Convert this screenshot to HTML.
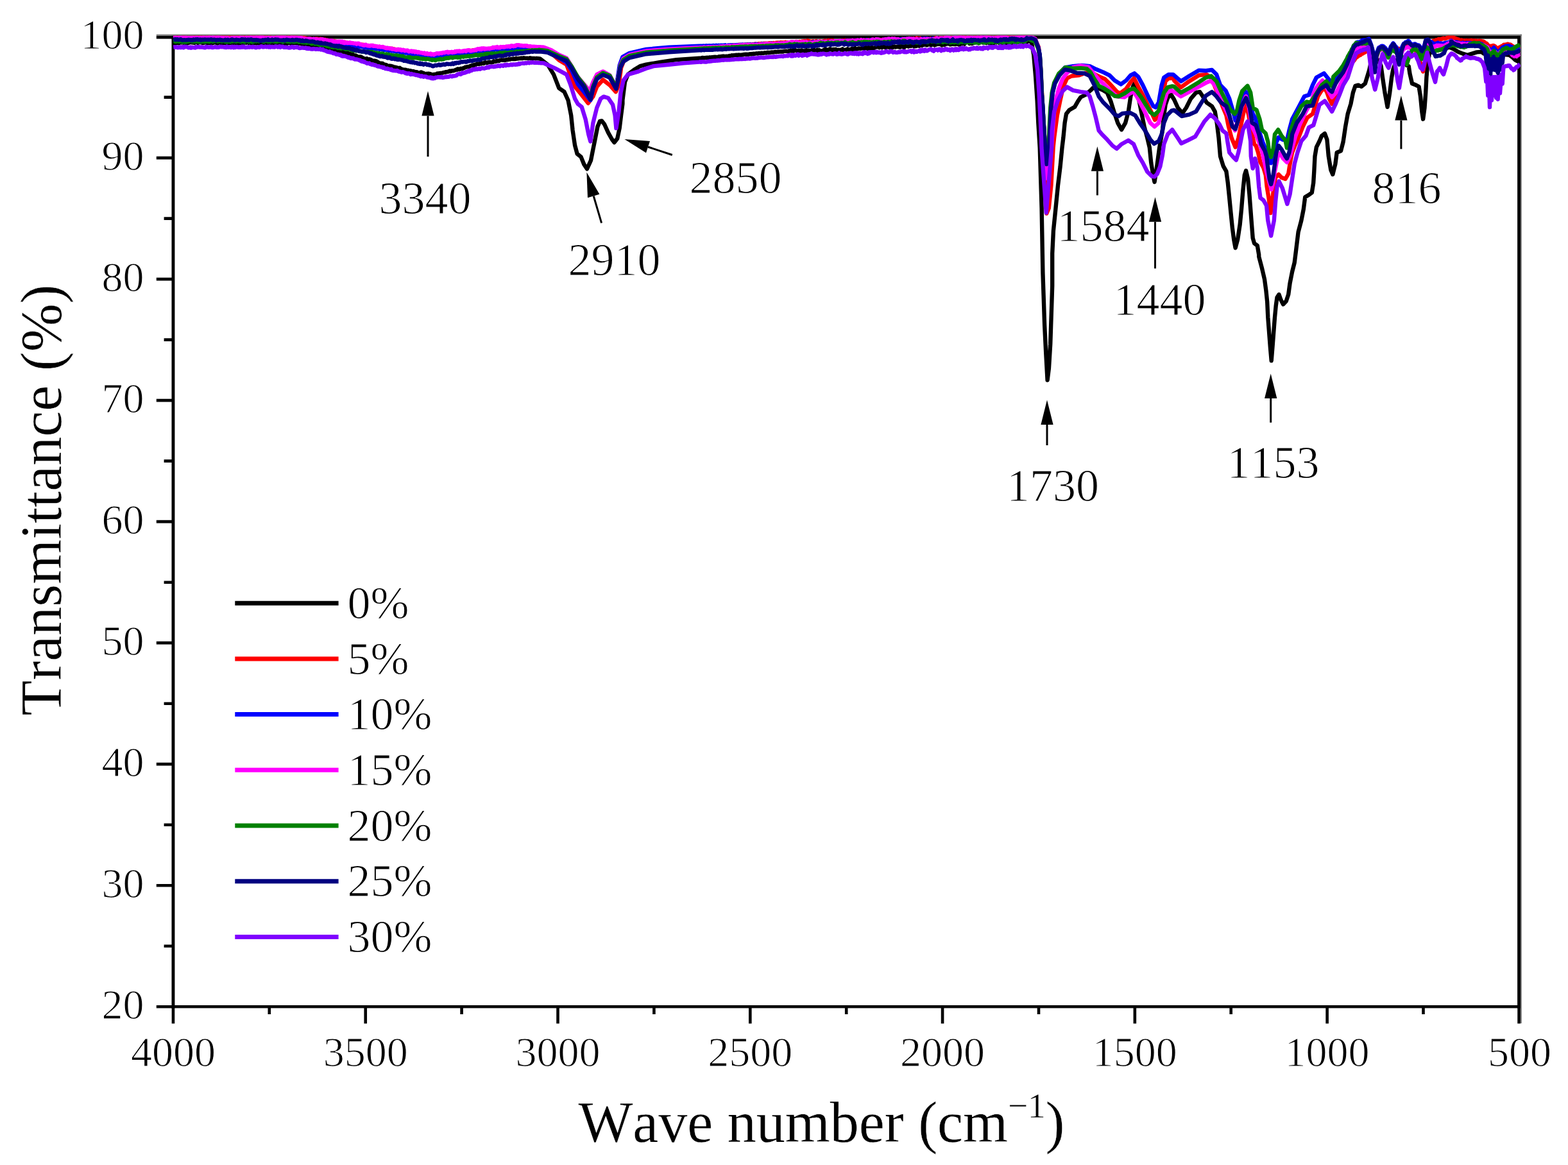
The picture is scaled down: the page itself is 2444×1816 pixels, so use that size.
<!DOCTYPE html>
<html lang="en"><head><meta charset="utf-8"><title>FTIR transmittance spectra</title>
<style>
html,body{margin:0;padding:0;background:#fff;}
body{width:2444px;height:1816px;overflow:hidden;}
svg{display:block;}
text{font-family:"Liberation Serif","DejaVu Serif",serif;fill:#000;font-kerning:none;stroke:#fff;stroke-width:1.1px;stroke-linejoin:round;}
.tk{font-size:66px;}
.an{font-size:72px;}
.lg{font-size:72px;}
.ti{font-size:90px;stroke-width:0.35px;}
.cv{fill:none;stroke-width:6.4;stroke-linejoin:round;stroke-linecap:butt;}
.ax{stroke:#000;stroke-width:4.6;fill:none;}
.ar{stroke:#000;stroke-width:3;fill:none;}
</style></head><body>
<svg width="2444" height="1816" viewBox="0 0 2444 1816">
<rect x="0" y="0" width="2444" height="1816" fill="#ffffff"/>
<defs><clipPath id="pc"><rect x="269.6" y="55.5" width="2100.3" height="1513.7"/></clipPath></defs>
<rect x="243.75" y="53.55" width="2128.10" height="2.65" fill="#7d7d7d"/>
<rect x="2369.70" y="53.55" width="2.15" height="1541.65" fill="#7d7d7d"/>
<rect x="267.50" y="55.90" width="2102.50" height="4.60" fill="#000"/>
<rect x="267.50" y="1566.95" width="2102.50" height="4.50" fill="#000"/>
<rect x="267.50" y="55.90" width="4.90" height="1515.55" fill="#000"/>
<rect x="2365.10" y="55.90" width="4.90" height="1515.55" fill="#000"/>
<path class="ax" d="M269.95,1569.2 V1595.4 M419.8,1569.2 V1580.9 M569.73,1569.2 V1595.4 M719.6,1569.2 V1580.9 M869.51,1569.2 V1595.4 M1019.4,1569.2 V1580.9 M1169.29,1569.2 V1595.4 M1319.2,1569.2 V1580.9 M1469.06,1569.2 V1595.4 M1619.0,1569.2 V1580.9 M1768.84,1569.2 V1595.4 M1918.7,1569.2 V1580.9 M2068.62,1569.2 V1595.4 M2218.5,1569.2 V1580.9 M2367.55,1569.2 V1595.4 M269.9,58.20 H243.8 M269.9,151.6 H255.6 M269.9,246.11 H243.8 M269.9,340.6 H255.6 M269.9,435.13 H243.8 M269.9,529.6 H255.6 M269.9,624.14 H243.8 M269.9,718.6 H255.6 M269.9,813.15 H243.8 M269.9,907.7 H255.6 M269.9,1002.16 H243.8 M269.9,1096.7 H255.6 M269.9,1191.17 H243.8 M269.9,1285.7 H255.6 M269.9,1380.19 H243.8 M269.9,1474.7 H255.6 M269.9,1569.20 H243.8"/>
<g clip-path="url(#pc)">
<polyline class="cv" stroke="#000000" points="270.3,66.8 271.6,66.9 272.9,67.4 274.2,67.1 275.5,66.4 276.8,66.7 278.1,67.3 279.4,67.0 280.7,66.3 282.0,66.1 283.3,66.5 284.6,66.1 285.9,66.7 287.3,66.2 288.6,66.5 289.9,67.1 291.2,66.7 292.5,67.4 293.8,66.8 295.1,66.5 296.4,65.8 297.7,66.2 299.0,66.4 300.3,66.2 301.6,66.7 302.9,66.9 304.2,65.9 305.5,65.7 306.8,65.7 308.1,66.8 309.4,66.6 310.7,65.8 312.0,65.7 313.3,66.2 314.6,66.3 315.9,67.1 317.2,67.0 318.6,66.4 319.9,66.1 321.2,66.0 322.5,67.1 323.8,67.1 325.1,66.9 326.4,67.0 327.7,66.3 329.0,66.7 330.3,67.4 331.6,67.4 332.9,66.3 334.2,66.2 335.5,66.1 336.8,66.2 338.1,67.3 339.4,67.6 340.7,66.3 342.0,66.4 343.3,66.3 344.6,67.2 345.9,67.1 347.2,67.1 348.5,66.9 349.8,66.6 351.2,66.9 352.5,66.5 353.8,66.7 355.1,66.1 356.4,67.3 357.7,66.2 359.0,66.1 360.3,67.1 361.6,66.5 362.9,66.8 364.2,66.5 365.5,66.9 366.8,68.0 368.1,67.9 369.4,67.5 370.7,67.8 372.0,66.7 373.3,67.6 374.6,66.3 375.9,66.4 377.2,67.1 378.5,67.3 379.8,67.2 381.1,66.3 382.5,66.3 383.8,66.7 385.1,66.4 386.4,66.2 387.7,66.7 389.0,66.5 390.3,66.6 391.6,67.0 392.9,67.3 394.2,66.4 395.5,67.4 396.8,66.2 398.1,67.1 399.4,67.5 400.7,67.1 402.0,67.2 403.3,67.3 404.6,67.8 405.9,67.3 407.2,67.0 408.5,66.9 409.8,67.4 411.1,67.1 412.4,66.8 413.7,66.3 415.1,67.5 416.4,67.3 417.7,67.3 419.0,67.2 420.3,67.4 421.6,67.2 422.9,66.7 424.2,67.3 425.5,67.5 426.8,67.2 428.1,66.9 429.4,67.8 430.7,67.0 432.0,66.5 433.3,66.8 434.6,67.0 435.9,67.4 437.2,66.9 438.5,67.4 439.8,67.4 441.1,67.0 442.4,67.8 443.7,68.0 445.0,66.8 446.4,67.7 447.7,67.8 449.0,67.0 450.3,66.5 451.6,66.5 452.9,67.7 454.2,67.2 455.5,67.3 456.8,67.6 458.1,66.8 459.4,67.1 460.7,66.3 462.0,67.2 463.3,67.3 464.6,67.9 466.0,66.9 467.3,67.9 468.6,68.0 469.9,68.7 471.3,67.6 472.6,69.2 473.9,68.7 475.2,68.9 476.5,69.2 477.9,69.0 479.2,70.0 480.5,69.8 481.8,70.8 483.2,70.7 484.5,70.3 485.8,71.3 487.1,71.5 488.5,71.5 489.8,71.6 491.1,71.9 492.4,71.9 493.7,71.7 495.1,72.2 496.4,72.8 497.7,72.7 499.0,72.5 500.4,72.9 501.7,72.9 503.0,73.4 504.3,72.9 505.6,73.0 507.0,74.5 508.3,74.1 509.6,74.6 510.9,75.7 512.2,74.6 513.6,75.2 514.9,76.0 516.2,75.2 517.5,76.2 518.9,75.9 520.2,76.9 521.5,78.0 522.8,78.1 524.1,77.8 525.5,78.0 526.8,79.7 528.1,79.8 529.4,80.1 530.8,80.7 532.1,80.1 533.4,80.5 534.7,80.3 536.0,81.0 537.4,81.5 538.7,81.4 540.0,82.8 541.3,82.0 542.6,83.6 544.0,83.4 545.3,83.6 546.6,84.5 547.9,84.9 549.3,84.4 550.6,85.5 551.9,86.0 553.2,86.5 554.6,86.5 555.9,87.3 557.2,88.0 558.5,88.4 559.9,88.5 561.2,88.5 562.5,88.4 563.8,89.2 565.1,90.0 566.5,90.7 567.8,91.2 569.1,91.6 570.4,91.8 571.8,91.2 573.1,92.3 574.4,92.9 575.7,92.3 577.1,92.8 578.4,93.1 579.7,94.3 581.0,94.7 582.4,94.6 583.7,94.7 585.0,94.9 586.3,95.9 587.6,95.8 589.0,96.8 590.3,97.7 591.6,98.3 592.9,98.9 594.3,98.6 595.6,98.6 596.9,99.2 598.2,100.5 599.6,100.7 600.9,101.0 602.2,101.2 603.5,102.0 604.9,102.8 606.2,103.3 607.5,102.5 608.8,102.8 610.1,103.0 611.4,104.5 612.7,103.7 614.0,105.1 615.3,104.9 616.6,104.6 617.9,105.5 619.2,105.5 620.5,105.8 621.8,106.7 623.1,105.9 624.4,107.1 625.7,107.5 627.0,108.1 628.3,108.4 629.6,109.1 630.9,108.6 632.2,108.6 633.5,109.6 634.8,109.8 636.1,109.5 637.4,110.2 638.7,110.3 640.0,110.2 641.3,111.4 642.7,111.1 644.0,110.9 645.4,111.5 646.7,111.8 648.1,112.7 649.4,112.1 650.8,112.9 652.1,113.4 653.5,113.5 654.8,113.3 656.2,112.4 657.5,112.9 658.8,114.1 660.2,114.0 661.5,114.6 662.9,115.0 664.2,115.3 665.6,114.8 666.9,115.0 668.3,114.7 669.6,116.4 671.0,115.4 672.3,116.7 673.7,116.3 675.0,117.3 676.3,115.9 677.6,115.9 679.0,115.7 680.3,116.0 681.6,114.6 682.9,115.2 684.2,114.1 685.6,114.3 686.9,113.9 688.2,113.9 689.5,113.6 690.8,113.2 692.2,113.0 693.5,112.9 694.8,112.1 696.1,112.3 697.4,111.9 698.8,111.8 700.1,111.0 701.4,110.4 702.7,111.2 704.0,110.5 705.4,110.2 706.7,110.3 708.0,110.0 709.3,109.3 710.6,108.7 711.9,109.0 713.2,107.4 714.5,107.4 715.8,108.3 717.2,107.6 718.5,106.8 719.8,107.5 721.1,107.1 722.4,106.0 723.7,106.0 725.0,104.8 726.3,104.8 727.6,104.4 728.9,104.0 730.2,104.2 731.5,104.0 732.8,102.9 734.2,102.5 735.5,101.8 736.8,101.8 738.1,102.1 739.4,100.8 740.7,101.5 742.0,100.5 743.3,99.7 744.6,99.5 746.0,99.8 747.3,99.9 748.6,98.8 749.9,99.5 751.2,98.3 752.6,98.6 753.9,99.0 755.2,97.7 756.5,97.1 757.8,97.8 759.2,98.1 760.5,97.1 761.8,97.1 763.1,96.7 764.4,96.9 765.8,97.4 767.1,97.0 768.4,96.8 769.7,95.3 771.0,95.5 772.4,96.0 773.7,95.5 775.0,94.5 776.3,95.1 777.7,95.1 779.0,93.9 780.4,93.6 781.7,93.4 783.1,93.7 784.4,93.8 785.8,93.4 787.1,94.1 788.5,93.6 789.8,92.9 791.2,93.2 792.5,92.3 793.8,92.7 795.2,92.5 796.5,91.9 797.9,91.9 799.2,92.1 800.6,91.4 801.9,92.0 803.3,92.1 804.6,90.7 806.0,91.5 807.3,91.3 808.7,91.2 810.0,90.9 811.3,91.1 812.7,90.4 814.0,91.1 815.3,90.4 816.7,90.3 818.0,90.6 819.3,90.7 820.7,90.9 822.0,90.6 823.3,91.0 824.7,90.9 826.0,90.2 827.3,90.9 828.7,90.8 830.0,91.0 831.3,90.9 832.6,90.9 833.9,91.1 835.2,91.2 836.6,90.9 837.9,91.1 839.2,91.2 840.5,91.4 841.8,91.4 853.6,100.7 863.0,116.1 871.3,137.3 879.6,143.2 885.5,156.2 890.2,179.8 892.6,203.1 896.1,226.7 899.6,239.7 905.5,244.4 910.3,256.2 915.0,263.3 920.9,250.3 924.4,232.6 928.0,214.9 931.5,197.2 935.0,188.9 938.0,188.4 942.1,193.7 948.0,206.7 953.9,217.3 957.5,222.0 962.2,216.1 965.7,199.6 968.1,179.5 970.4,161.8 970.4,156.2 974.0,127.9 978.7,116.1 988.1,109.0 997.6,103.1 1007.0,100.7 1030.6,96.6 1054.2,93.1 1090.0,90.7 1091.3,90.6 1092.6,91.0 1093.9,90.2 1095.2,90.0 1096.5,90.1 1097.8,90.4 1099.1,90.2 1100.4,90.0 1101.7,89.8 1103.0,89.8 1104.3,90.0 1105.6,89.5 1106.9,89.4 1108.2,89.5 1109.5,89.6 1110.8,89.1 1112.1,88.9 1113.4,88.9 1114.7,88.7 1116.0,89.2 1117.3,89.0 1118.6,89.0 1119.9,88.6 1121.2,88.1 1122.5,88.6 1123.9,88.0 1125.2,87.8 1126.5,87.8 1127.8,87.5 1129.1,87.9 1130.4,87.9 1131.7,87.8 1133.0,87.7 1134.3,87.7 1135.6,87.5 1136.9,87.0 1138.2,87.2 1139.5,86.8 1140.8,86.3 1142.1,86.8 1143.4,86.3 1144.7,86.3 1146.0,85.9 1147.3,85.8 1148.6,85.8 1149.9,85.9 1151.2,85.5 1152.5,85.7 1153.8,85.6 1155.1,85.9 1156.4,85.4 1157.7,85.5 1159.0,84.9 1160.3,85.0 1161.6,84.7 1162.9,84.8 1164.2,84.7 1165.5,84.9 1166.8,84.7 1168.1,84.5 1169.4,84.1 1170.7,84.5 1172.0,84.0 1173.3,84.4 1174.6,83.6 1175.9,83.9 1177.2,83.7 1178.5,83.4 1179.8,83.3 1181.1,83.5 1182.4,83.0 1183.7,82.9 1185.0,83.0 1186.3,82.8 1187.6,82.7 1188.9,82.9 1190.2,83.0 1191.5,82.3 1192.8,82.4 1194.2,82.6 1195.5,82.0 1196.8,81.8 1198.1,82.3 1199.4,81.9 1200.7,81.8 1202.0,81.5 1203.3,81.3 1204.6,81.6 1205.9,81.4 1207.2,80.9 1208.5,80.8 1209.8,81.2 1211.1,80.9 1212.4,80.8 1213.7,80.8 1215.0,80.5 1216.3,80.5 1217.6,80.3 1218.9,80.6 1220.2,80.5 1221.5,79.9 1222.8,79.8 1224.1,79.6 1225.4,79.6 1226.7,80.0 1228.0,80.0 1229.3,80.1 1230.6,79.0 1231.9,79.2 1233.2,78.6 1234.6,80.1 1235.9,78.3 1237.2,79.6 1238.5,77.8 1239.8,78.4 1241.1,78.8 1242.4,79.2 1243.7,80.0 1245.0,79.1 1246.3,78.6 1247.7,79.6 1249.0,78.4 1250.3,78.8 1251.6,80.1 1252.9,79.4 1254.2,79.4 1255.5,80.1 1256.8,78.3 1258.1,78.4 1259.4,79.6 1260.8,78.8 1262.1,79.7 1263.4,78.8 1264.7,79.6 1266.0,78.1 1267.3,78.5 1268.6,77.8 1269.9,78.6 1271.2,78.9 1272.6,79.5 1273.9,77.7 1275.2,79.5 1276.5,77.8 1277.8,79.5 1279.1,79.7 1280.4,79.5 1281.7,79.2 1283.0,79.3 1284.3,77.5 1285.7,77.7 1287.0,76.8 1288.3,78.4 1289.6,77.7 1290.9,78.6 1292.2,76.9 1293.5,76.3 1294.8,77.4 1296.1,77.0 1297.4,78.0 1298.8,77.2 1300.1,76.9 1301.4,78.7 1302.7,76.9 1304.0,78.8 1305.3,78.8 1306.6,77.6 1307.9,77.9 1309.2,78.3 1310.6,77.6 1311.9,77.2 1313.2,76.4 1314.5,78.3 1315.8,78.2 1317.1,77.7 1318.4,77.8 1319.7,76.9 1321.0,76.3 1322.3,77.5 1323.7,77.2 1325.0,77.2 1326.3,77.3 1327.6,76.0 1328.9,77.7 1330.2,76.3 1331.5,76.8 1332.8,75.1 1334.1,76.7 1335.4,76.5 1336.8,76.1 1338.1,75.5 1339.4,75.4 1340.7,75.6 1342.0,75.7 1343.3,75.3 1344.6,74.4 1345.9,75.5 1347.2,75.7 1348.6,74.5 1349.9,74.0 1351.2,75.1 1352.5,75.9 1353.8,73.9 1355.1,75.5 1356.4,75.5 1357.7,75.3 1359.0,74.0 1360.3,74.8 1361.7,74.8 1363.0,74.7 1364.3,73.9 1365.6,73.2 1366.9,73.1 1368.2,73.3 1369.5,73.2 1370.8,74.3 1372.1,73.3 1373.4,72.9 1374.8,74.1 1376.1,73.2 1377.4,72.0 1378.7,73.2 1380.0,74.2 1381.3,73.7 1382.6,73.0 1384.0,73.4 1385.3,73.8 1386.6,73.8 1387.9,72.2 1389.2,74.0 1390.6,72.0 1391.9,73.8 1393.2,72.9 1394.5,72.4 1395.8,73.5 1397.2,73.0 1398.5,73.1 1399.8,73.1 1401.1,73.1 1402.5,73.8 1403.8,71.7 1405.1,71.7 1406.4,73.1 1407.7,72.6 1409.1,74.2 1410.4,72.1 1411.7,72.2 1413.0,71.5 1414.3,71.2 1415.7,72.4 1417.0,71.6 1418.3,71.2 1419.6,71.8 1420.9,71.5 1422.3,71.4 1423.6,69.9 1424.9,72.3 1426.2,70.2 1427.5,72.1 1428.9,71.5 1430.2,70.4 1431.5,71.3 1432.8,71.7 1434.2,70.1 1435.5,70.8 1436.8,71.0 1438.1,68.9 1439.4,70.0 1440.8,69.4 1442.1,68.3 1443.4,70.2 1444.7,70.5 1446.0,69.2 1447.4,69.5 1448.7,68.4 1450.0,69.4 1451.3,70.4 1452.6,68.6 1453.9,69.6 1455.2,69.0 1456.5,70.5 1457.8,70.2 1459.1,68.3 1460.4,69.1 1461.7,67.7 1463.0,68.9 1464.3,68.6 1465.6,68.1 1466.9,69.6 1468.2,70.4 1469.5,69.7 1470.8,69.8 1472.1,69.7 1473.4,69.4 1474.7,67.7 1476.0,68.4 1477.3,68.4 1478.6,67.7 1479.9,68.1 1481.2,69.5 1482.5,69.2 1483.8,68.5 1485.1,67.5 1486.4,69.1 1487.7,68.8 1489.0,69.1 1490.3,68.1 1491.6,68.4 1492.9,68.7 1494.2,69.3 1495.5,69.9 1496.8,67.1 1498.1,66.9 1499.4,68.0 1500.7,66.3 1502.0,67.3 1503.3,68.5 1504.6,66.1 1505.9,65.6 1507.2,65.8 1508.5,65.9 1509.8,65.3 1511.1,67.8 1512.4,67.0 1513.7,67.4 1515.0,67.9 1516.3,66.1 1517.6,67.0 1518.9,65.8 1520.2,65.4 1521.5,66.4 1522.8,65.8 1524.1,65.3 1525.4,67.4 1526.7,66.2 1528.0,66.3 1529.3,65.8 1530.6,65.5 1531.9,66.4 1533.2,65.3 1534.5,64.7 1535.8,64.5 1537.2,67.0 1538.5,66.5 1539.8,65.4 1541.1,66.2 1542.4,67.5 1543.7,67.4 1545.0,67.4 1546.3,66.9 1547.6,66.8 1548.9,67.3 1550.2,65.0 1551.5,65.7 1552.8,66.4 1554.2,65.3 1555.5,65.5 1556.8,64.9 1558.1,67.7 1559.4,67.7 1560.7,65.6 1562.0,65.8 1563.3,66.7 1564.6,66.2 1565.9,65.8 1567.2,67.2 1568.5,67.1 1569.8,65.6 1571.2,66.1 1572.5,64.6 1573.8,64.5 1575.1,65.4 1576.4,65.9 1577.7,67.0 1579.0,66.8 1580.3,65.8 1581.6,67.6 1582.9,66.4 1584.2,66.9 1585.5,65.5 1586.8,64.8 1588.2,64.9 1589.5,67.1 1590.8,67.4 1592.1,66.1 1593.4,66.5 1594.7,65.7 1596.0,66.4 1597.4,65.8 1598.8,66.4 1600.2,65.7 1601.6,64.5 1603.0,63.9 1607.7,65.3 1611.2,85.4 1614.2,120.8 1616.6,156.2 1618.3,191.6 1620.7,230.0 1623.6,324.4 1625.4,425.0 1626.6,460.5 1628.1,505.9 1630.3,551.3 1632.6,592.5 1634.9,574.0 1637.2,536.2 1638.7,490.8 1640.2,445.4 1640.2,395.2 1641.9,359.8 1645.5,324.4 1649.0,289.0 1652.6,259.5 1655.5,230.0 1657.3,215.2 1659.6,191.6 1662.0,177.5 1666.7,171.6 1675.0,166.8 1679.7,158.6 1684.4,151.5 1691.5,148.0 1699.8,140.9 1703.3,137.3 1712.7,137.9 1719.8,140.9 1725.7,144.4 1731.6,158.6 1736.3,173.9 1742.2,191.6 1748.1,202.2 1754.1,191.6 1758.8,173.9 1762.3,150.3 1765.9,135.0 1768.2,130.3 1771.8,139.7 1775.3,156.2 1778.8,173.9 1783.6,197.5 1788.3,215.2 1791.8,230.0 1794.2,253.6 1797.7,274.8 1799.5,283.7 1802.4,265.4 1804.8,247.7 1807.2,230.0 1811.9,203.4 1814.2,179.8 1816.6,163.3 1820.1,152.7 1824.9,146.8 1830.0,155.0 1835.9,168.0 1843.0,176.3 1848.9,168.0 1856.0,153.9 1864.2,144.4 1870.1,143.2 1874.8,150.3 1880.7,159.8 1889.0,165.7 1893.7,173.9 1896.7,191.6 1899.6,215.2 1902.0,243.6 1906.7,258.9 1911.4,267.2 1913.8,284.9 1916.2,308.5 1918.5,332.1 1920.9,355.7 1923.2,373.4 1925.6,386.4 1929.1,373.4 1932.7,349.8 1935.0,326.2 1937.4,296.7 1939.8,273.1 1942.1,266.0 1945.1,279.0 1947.4,302.6 1949.2,326.2 1951.0,349.8 1952.7,371.1 1955.1,379.3 1959.8,382.9 1962.2,397.0 1962.2,400.0 1966.9,417.7 1971.0,435.4 1973.4,453.1 1975.2,470.8 1976.3,494.4 1978.1,518.0 1979.9,541.6 1981.7,562.3 1983.4,541.6 1985.2,518.0 1987.0,494.4 1988.7,476.7 1990.5,463.7 1993.5,459.0 1996.4,467.3 2000.0,474.4 2004.7,469.6 2008.2,459.0 2010.6,441.3 2014.1,423.6 2017.7,409.4 2020.0,391.1 2023.6,361.6 2028.3,343.9 2031.8,326.2 2034.2,307.3 2040.1,303.8 2044.8,300.3 2047.2,284.9 2048.3,267.2 2049.5,243.6 2051.9,229.4 2056.6,220.0 2060.1,211.7 2064.9,208.1 2068.4,217.6 2070.8,243.6 2074.3,264.8 2077.3,271.9 2081.4,255.4 2083.7,237.7 2090.0,235.3 2093.6,221.1 2097.1,197.5 2100.7,177.5 2105.4,162.1 2108.9,144.4 2112.5,133.8 2117.2,132.6 2121.9,135.0 2127.8,130.3 2131.4,118.5 2134.3,109.0 2137.3,94.8 2143.2,88.9 2149.1,94.8 2152.6,103.1 2155.0,120.8 2158.5,144.4 2162.6,166.8 2166.2,144.4 2169.1,120.8 2171.5,107.8 2176.2,94.8 2182.1,88.9 2188.0,94.8 2192.7,101.9 2195.7,103.1 2197.5,114.9 2201.0,130.3 2206.9,132.6 2211.6,135.0 2214.0,150.3 2216.3,173.9 2218.1,185.7 2220.5,168.0 2222.2,144.4 2223.4,120.8 2225.2,99.6 2228.1,83.0 2235.2,79.5 2247.0,77.1 2258.8,73.6 2260.3,74.1 2265.4,76.3 2272.7,80.7 2279.9,83.6 2287.2,85.8 2294.5,83.6 2301.7,81.4 2309.0,80.7 2312.6,83.6 2327.1,85.0 2345.3,85.0 2352.6,85.8 2357.6,89.4 2362.0,93.7 2364.9,95.2 2369.3,96.3"/>
<polyline class="cv" stroke="#ff0000" points="270.3,58.5 271.6,58.6 272.9,58.8 274.2,58.9 275.5,59.1 276.8,58.0 278.1,58.6 279.4,59.0 280.7,59.4 282.0,59.3 283.3,59.2 284.6,58.4 285.9,59.7 287.3,58.3 288.6,58.6 289.9,58.9 291.2,58.7 292.5,58.8 293.8,59.2 295.1,59.0 296.4,58.7 297.7,58.5 299.0,59.2 300.3,58.5 301.6,58.2 302.9,58.1 304.2,59.0 305.5,58.2 306.8,58.6 308.1,57.9 309.4,58.2 310.7,57.7 312.0,58.7 313.3,58.4 314.6,57.6 315.9,58.7 317.2,58.5 318.6,59.1 319.9,58.8 321.2,58.2 322.5,59.3 323.8,59.0 325.1,58.0 326.4,58.6 327.7,58.3 329.0,58.9 330.3,59.2 331.6,59.4 332.9,59.2 334.2,59.0 335.5,57.8 336.8,58.9 338.1,57.5 339.4,58.7 340.7,58.3 342.0,58.8 343.3,58.7 344.6,58.5 345.9,58.1 347.2,58.1 348.5,58.6 349.8,58.2 351.2,57.9 352.5,57.6 353.8,57.8 355.1,57.6 356.4,57.4 357.7,58.6 359.0,57.4 360.3,57.9 361.6,57.8 362.9,58.7 364.2,57.9 365.5,58.3 366.8,58.6 368.1,57.5 369.4,58.1 370.7,57.7 372.0,58.6 373.3,58.4 374.6,58.6 375.9,58.8 377.2,58.4 378.5,58.6 379.8,58.1 381.1,57.9 382.5,58.3 383.8,59.5 385.1,58.5 386.4,58.6 387.7,57.8 389.0,57.9 390.3,59.0 391.6,59.1 392.9,58.1 394.2,59.0 395.5,58.2 396.8,57.9 398.1,58.7 399.4,58.3 400.7,57.9 402.0,58.1 403.3,59.0 404.6,58.5 405.9,57.9 407.2,58.3 408.5,58.0 409.8,58.1 411.1,59.1 412.4,58.0 413.7,59.0 415.1,58.4 416.4,58.0 417.7,58.6 419.0,58.8 420.3,58.9 421.6,58.0 422.9,59.0 424.2,59.1 425.5,58.9 426.8,59.1 428.1,58.8 429.4,58.2 430.7,58.0 432.0,59.1 433.3,59.2 434.6,59.1 435.9,58.2 437.2,58.2 438.5,58.5 439.8,57.7 441.1,58.8 442.4,59.2 443.7,58.6 445.0,58.2 446.4,58.4 447.7,58.7 449.0,57.5 450.3,58.4 451.6,58.1 452.9,58.2 454.2,58.5 455.5,58.1 456.8,58.1 458.1,57.7 459.4,57.5 460.7,57.9 462.0,58.0 463.3,58.9 464.6,58.7 466.0,59.5 467.3,59.1 468.6,58.2 469.9,59.2 471.3,58.8 472.6,58.9 473.9,58.8 475.2,60.3 476.5,59.5 477.9,59.9 479.2,60.1 480.5,60.6 481.8,60.6 483.2,61.0 484.5,60.4 485.8,60.9 487.1,61.6 488.5,60.9 489.8,61.4 491.1,61.2 492.4,60.4 493.7,61.3 495.1,60.5 496.4,61.2 497.7,61.8 499.0,60.8 500.4,60.9 501.7,61.2 503.0,62.2 504.3,62.2 505.6,61.7 507.0,61.9 508.3,62.8 509.6,62.5 510.9,63.5 512.2,63.5 513.6,63.5 514.9,63.3 516.2,64.6 517.5,64.2 518.9,63.9 520.2,63.9 521.5,64.2 522.8,65.1 524.1,64.8 525.5,65.3 526.8,65.0 528.1,65.0 529.4,65.4 530.8,65.2 532.1,65.8 533.4,65.5 534.7,66.3 536.0,66.7 537.4,65.7 538.7,67.0 540.0,66.7 541.3,66.7 542.6,66.9 544.0,67.5 545.3,66.8 546.6,67.5 547.9,68.5 549.3,67.2 550.6,68.1 551.9,69.2 553.2,69.2 554.6,68.8 555.9,69.8 557.2,69.8 558.5,70.1 559.9,69.9 561.2,69.9 562.5,69.8 563.8,69.4 565.1,71.1 566.5,69.8 567.8,70.8 569.1,70.4 570.4,71.1 571.8,71.9 573.1,72.2 574.4,71.1 575.7,71.9 577.1,71.9 578.4,72.3 579.7,72.5 581.0,73.2 582.4,73.0 583.7,73.7 585.0,73.0 586.3,73.5 587.6,73.6 589.0,73.3 590.3,73.4 591.6,72.9 592.9,73.6 594.3,74.7 595.6,74.0 596.9,73.9 598.2,74.9 599.6,75.2 600.9,75.1 602.2,75.4 603.5,75.5 604.9,75.7 606.2,75.3 607.5,75.4 608.8,75.6 610.1,76.5 611.4,75.8 612.7,76.2 614.0,76.9 615.3,76.6 616.6,78.0 617.9,77.9 619.2,77.3 620.5,77.7 621.8,78.9 623.1,78.7 624.4,78.0 625.7,79.3 627.0,78.8 628.3,78.7 629.6,79.5 630.9,79.5 632.2,79.4 633.5,80.6 634.8,80.5 636.1,80.2 637.4,80.7 638.7,80.4 640.0,81.6 641.3,81.8 642.7,81.5 644.0,81.4 645.4,82.7 646.7,82.9 648.1,82.5 649.4,82.3 650.8,82.7 652.1,83.5 653.5,83.4 654.8,84.0 656.2,84.1 657.5,83.3 658.8,83.7 660.2,83.4 661.5,84.4 662.9,84.7 664.2,85.2 665.6,84.8 666.9,84.6 668.3,85.9 669.6,84.7 671.0,85.5 672.3,85.3 673.7,86.2 675.0,85.7 676.3,85.3 677.6,86.2 679.0,85.3 680.3,85.7 681.6,86.0 682.9,85.2 684.2,85.6 685.6,85.0 686.9,84.4 688.2,84.8 689.5,83.5 690.8,83.6 692.2,84.5 693.5,83.9 694.8,83.7 696.1,83.2 697.4,83.6 698.8,83.7 700.1,83.5 701.4,83.1 702.7,83.4 704.0,82.7 705.4,83.4 706.7,81.7 708.0,82.1 709.3,81.5 710.6,81.8 711.9,81.3 713.2,81.7 714.5,80.9 715.8,81.6 717.2,80.5 718.5,80.4 719.8,80.8 721.1,80.5 722.4,80.3 723.7,80.8 725.0,79.8 726.3,79.7 727.6,80.3 728.9,79.3 730.2,80.2 731.5,80.4 732.8,78.9 734.2,79.9 735.5,78.8 736.8,78.4 738.1,78.3 739.4,78.2 740.7,78.9 742.0,78.8 743.3,78.5 744.6,78.3 746.0,77.2 747.3,77.7 748.6,77.0 749.9,77.3 751.2,77.7 752.6,77.5 753.9,77.9 755.2,76.6 756.5,77.2 757.8,77.0 759.2,77.3 760.5,76.6 761.8,76.4 763.1,77.0 764.4,75.7 765.8,75.5 767.1,75.4 768.4,76.3 769.7,75.2 771.0,75.2 772.4,75.6 773.7,75.4 775.0,75.1 776.3,75.4 777.7,75.2 779.0,74.5 780.4,75.3 781.7,75.0 783.1,74.2 784.4,74.4 785.8,75.2 787.1,73.8 788.5,74.6 789.8,74.0 791.2,74.3 792.5,74.0 793.8,74.2 795.2,73.6 796.5,73.0 797.9,73.4 799.2,72.9 800.6,73.0 801.9,73.0 803.3,72.5 804.6,72.3 806.0,72.2 807.3,72.2 808.7,72.0 810.0,72.6 811.3,72.5 812.7,72.1 814.0,72.4 815.3,72.8 816.7,73.1 818.0,72.7 819.3,72.7 820.7,73.5 822.0,73.6 823.3,74.0 824.7,74.0 826.0,73.3 827.3,74.0 828.7,73.6 830.0,74.4 831.4,74.2 832.7,74.4 834.1,74.6 835.4,74.8 836.8,74.9 838.2,75.2 839.5,75.4 840.9,75.5 842.3,75.8 843.6,76.0 845.0,76.1 846.3,76.4 847.7,76.6 859.5,83.0 871.3,93.7 883.1,100.7 889.0,117.3 896.1,135.0 906.7,148.0 916.7,160.9 924.4,150.3 930.3,135.0 939.8,124.4 950.4,132.6 959.8,143.2 964.5,132.6 968.1,105.5 972.8,93.7 981.1,86.6 1007.0,80.1 1042.4,76.9 1090.0,73.6 1091.3,73.7 1092.6,73.6 1093.9,73.1 1095.2,73.2 1096.5,73.4 1097.8,73.1 1099.1,72.9 1100.4,73.2 1101.7,72.6 1103.0,72.9 1104.3,72.7 1105.6,72.4 1106.9,72.9 1108.2,72.3 1109.5,72.5 1110.8,72.7 1112.1,72.3 1113.4,72.4 1114.7,72.5 1116.0,72.4 1117.3,71.9 1118.6,72.2 1119.9,71.5 1121.2,71.8 1122.5,71.5 1123.9,71.9 1125.2,72.0 1126.5,71.7 1127.8,71.7 1129.1,71.7 1130.4,71.7 1131.7,71.2 1133.0,71.7 1134.3,71.1 1135.6,71.4 1136.9,70.9 1138.2,71.1 1139.5,70.8 1140.8,70.6 1142.1,70.4 1143.4,70.7 1144.7,70.5 1146.0,70.6 1147.3,70.2 1148.6,70.4 1149.9,70.5 1151.2,69.7 1152.5,70.3 1153.8,69.9 1155.1,69.9 1156.4,70.2 1157.7,70.0 1159.0,70.0 1160.3,69.7 1161.6,70.0 1162.9,69.9 1164.2,69.6 1165.5,69.1 1166.8,69.2 1168.1,69.4 1169.4,69.0 1170.7,69.4 1172.0,69.4 1173.3,68.9 1174.6,69.1 1175.9,69.0 1177.2,68.4 1178.5,68.9 1179.8,69.0 1181.1,68.7 1182.4,68.2 1183.7,68.4 1185.0,68.5 1186.3,68.0 1187.6,68.0 1188.9,68.4 1190.2,67.7 1191.5,68.1 1192.8,67.6 1194.2,67.6 1195.5,67.6 1196.8,67.6 1198.1,67.4 1199.4,67.1 1200.7,67.5 1202.0,67.3 1203.3,67.4 1204.6,67.5 1205.9,67.0 1207.2,67.4 1208.5,67.3 1209.8,66.7 1211.1,66.8 1212.4,66.5 1213.7,66.7 1215.0,66.7 1216.3,66.2 1217.6,66.2 1218.9,66.5 1220.2,66.3 1221.5,66.7 1222.8,66.4 1224.1,65.8 1225.4,66.4 1226.7,66.2 1228.0,66.4 1229.3,66.6 1230.6,67.5 1231.9,67.1 1233.2,65.7 1234.6,65.4 1235.9,65.7 1237.2,66.5 1238.5,66.6 1239.8,66.7 1241.1,65.0 1242.4,65.1 1243.7,66.5 1245.0,65.8 1246.3,65.0 1247.7,65.5 1249.0,65.1 1250.3,64.5 1251.6,64.6 1252.9,64.2 1254.2,63.9 1255.5,64.5 1256.8,65.8 1258.1,63.5 1259.4,63.4 1260.8,65.3 1262.1,64.4 1263.4,65.7 1264.7,65.5 1266.0,64.5 1267.3,64.3 1268.6,65.4 1269.9,65.3 1271.2,64.4 1272.6,64.0 1273.9,65.8 1275.2,64.9 1276.5,64.7 1277.8,64.2 1279.1,64.6 1280.4,65.1 1281.7,65.8 1283.0,64.4 1284.3,64.0 1285.7,63.6 1287.0,65.3 1288.3,64.2 1289.6,64.1 1290.9,63.0 1292.2,63.2 1293.5,64.5 1294.8,63.9 1296.1,63.0 1297.4,64.3 1298.8,63.6 1300.1,64.8 1301.4,65.1 1302.7,64.1 1304.0,64.4 1305.3,64.7 1306.6,64.0 1307.9,64.1 1309.2,64.8 1310.6,65.4 1311.9,65.0 1313.2,63.3 1314.5,64.1 1315.8,63.2 1317.1,62.7 1318.4,62.9 1319.7,63.9 1321.0,64.4 1322.3,63.6 1323.7,63.6 1325.0,65.1 1326.3,64.4 1327.6,65.2 1328.9,63.7 1330.2,64.5 1331.5,63.7 1332.8,65.1 1334.1,63.8 1335.4,63.3 1336.8,63.6 1338.1,64.2 1339.4,63.9 1340.7,63.4 1342.0,64.2 1343.3,63.9 1344.6,63.9 1345.9,63.5 1347.2,64.0 1348.6,63.8 1349.9,64.1 1351.2,62.2 1352.5,62.4 1353.8,62.4 1355.1,63.4 1356.4,64.1 1357.7,63.6 1359.0,62.2 1360.3,64.0 1361.7,63.0 1363.0,62.8 1364.3,63.6 1365.6,62.5 1366.9,63.0 1368.2,61.7 1369.5,62.0 1370.8,63.9 1372.1,63.4 1373.4,62.4 1374.8,63.6 1376.1,61.9 1377.4,62.4 1378.7,63.7 1380.0,62.7 1381.3,64.0 1382.6,62.5 1384.0,62.3 1385.3,63.2 1386.6,61.0 1387.9,63.4 1389.2,63.2 1390.6,61.5 1391.9,62.9 1393.2,61.2 1394.5,60.9 1395.8,63.5 1397.2,61.6 1398.5,62.2 1399.8,62.9 1401.1,61.9 1402.5,62.8 1403.8,63.0 1405.1,63.0 1406.4,60.7 1407.7,62.2 1409.1,62.7 1410.4,62.8 1411.7,61.4 1413.0,61.3 1414.3,62.4 1415.7,62.4 1417.0,61.0 1418.3,62.5 1419.6,61.2 1420.9,60.4 1422.3,62.0 1423.6,61.5 1424.9,60.7 1426.2,60.5 1427.5,62.3 1428.9,59.4 1430.2,61.2 1431.5,59.9 1432.8,60.4 1434.2,59.7 1435.5,60.3 1436.8,61.7 1438.1,60.2 1439.4,60.3 1440.8,60.5 1442.1,60.3 1443.4,60.5 1444.7,61.8 1446.0,61.2 1447.4,62.0 1448.7,62.0 1450.0,60.0 1451.3,61.3 1452.6,61.5 1453.9,61.7 1455.2,60.1 1456.5,61.3 1457.8,59.7 1459.1,58.8 1460.4,60.1 1461.7,60.6 1463.0,60.6 1464.3,59.5 1465.6,58.9 1466.9,59.8 1468.2,60.3 1469.5,58.9 1470.8,58.9 1472.1,58.7 1473.4,60.7 1474.7,58.9 1476.0,60.4 1477.3,60.7 1478.6,60.3 1479.9,59.4 1481.2,60.1 1482.5,58.7 1483.8,60.9 1485.1,60.9 1486.4,60.0 1487.7,60.4 1489.0,59.6 1490.3,60.1 1491.6,59.7 1492.9,59.6 1494.2,59.7 1495.5,58.0 1496.8,60.1 1498.1,60.4 1499.4,58.5 1500.7,58.0 1502.0,58.5 1503.3,58.5 1504.6,57.8 1505.9,58.4 1507.2,60.7 1508.5,59.5 1509.8,58.5 1511.1,58.6 1512.4,57.9 1513.7,58.9 1515.0,59.8 1516.3,60.0 1517.6,59.1 1518.9,57.8 1520.2,59.2 1521.5,58.5 1522.8,57.9 1524.1,57.7 1525.4,58.1 1526.7,59.7 1528.0,58.2 1529.3,57.1 1530.6,58.2 1531.9,59.7 1533.2,57.7 1534.5,59.0 1535.8,58.8 1537.2,58.9 1538.5,59.1 1539.8,57.3 1541.1,57.6 1542.4,57.4 1543.7,57.6 1545.0,59.8 1546.3,58.6 1547.6,58.7 1548.9,60.2 1550.2,58.2 1551.5,57.3 1552.8,58.4 1554.2,57.8 1555.5,57.0 1556.8,58.5 1558.1,56.6 1559.4,58.7 1560.7,58.4 1562.0,58.2 1563.3,59.6 1564.6,57.4 1565.9,58.1 1567.2,59.7 1568.5,58.2 1569.8,58.3 1571.2,57.0 1572.5,56.5 1573.8,57.3 1575.1,57.5 1576.4,58.4 1577.7,57.0 1579.0,58.0 1580.3,59.4 1581.6,58.3 1582.9,59.1 1584.2,58.6 1585.5,58.6 1586.8,58.0 1588.2,58.2 1589.5,58.5 1590.8,59.1 1592.1,58.8 1593.4,58.4 1594.7,58.7 1596.0,58.3 1597.5,57.5 1599.0,57.0 1600.5,56.8 1602.0,57.7 1607.7,58.3 1613.6,61.2 1618.9,73.6 1621.6,97.2 1623.4,132.6 1625.2,168.0 1627.5,203.4 1629.9,238.8 1631.3,332.7 1634.8,324.4 1638.4,289.0 1641.6,230.0 1643.1,215.2 1647.8,179.8 1652.6,156.2 1657.3,135.0 1663.2,122.0 1670.3,118.5 1682.1,117.3 1691.5,113.7 1702.1,113.7 1713.9,119.6 1722.2,123.2 1731.6,132.6 1741.1,143.2 1745.8,145.6 1755.2,138.5 1762.3,127.9 1767.6,122.0 1774.1,135.0 1781.2,148.0 1788.3,162.1 1794.2,173.9 1800.1,186.9 1806.0,179.8 1810.7,156.2 1816.6,126.7 1821.3,122.0 1829.6,122.0 1830.0,125.5 1840.6,136.2 1853.6,126.7 1868.9,117.3 1880.7,116.1 1887.8,120.8 1893.7,135.0 1899.6,150.3 1905.5,165.7 1911.4,179.8 1915.0,197.5 1919.7,215.2 1925.6,229.4 1930.3,215.2 1935.0,191.6 1938.6,173.9 1942.1,163.3 1946.3,179.8 1950.4,203.4 1955.1,224.7 1957.5,227.1 1961.0,237.7 1964.5,253.0 1969.3,261.3 1972.8,273.1 1974.6,290.8 1977.5,308.5 1980.5,332.1 1983.4,308.5 1985.8,290.8 1988.1,276.7 1992.9,271.9 1997.6,276.7 2003.5,279.0 2008.2,270.7 2010.6,255.4 2014.1,237.7 2018.8,225.9 2024.7,212.9 2030.6,197.5 2037.7,183.4 2046.0,177.5 2050.7,162.1 2054.2,150.3 2060.1,140.9 2064.9,137.3 2068.4,144.4 2071.9,153.9 2076.1,162.1 2081.8,150.3 2087.7,137.3 2093.6,125.5 2100.7,111.4 2102.1,108.5 2103.5,106.2 2104.9,103.4 2106.4,99.8 2107.8,96.7 2109.2,95.7 2110.6,94.3 2112.0,92.0 2113.4,90.1 2114.8,89.1 2116.2,88.3 2117.6,86.8 2119.0,86.4 2120.4,85.8 2121.7,84.6 2123.1,83.7 2124.5,83.3 2125.9,81.8 2127.4,81.7 2128.8,80.4 2130.2,80.1 2132.0,78.6 2133.7,76.5 2135.5,79.5 2137.3,82.6 2139.0,87.3 2140.8,91.6 2143.2,101.9 2145.5,88.9 2150.3,73.6 2151.8,73.4 2153.4,72.5 2155.0,72.9 2156.5,73.9 2157.9,75.9 2159.4,77.6 2160.9,80.8 2162.6,84.3 2164.4,87.8 2168.0,78.3 2169.7,75.5 2171.5,72.0 2173.1,73.6 2174.6,75.8 2176.2,77.7 2178.0,76.6 2179.8,75.7 2181.5,78.0 2183.3,81.1 2184.9,79.0 2186.4,76.1 2188.0,73.7 2189.4,73.3 2190.9,72.6 2192.3,73.2 2193.7,72.3 2195.1,71.7 2196.6,71.7 2198.1,73.8 2199.5,75.2 2201.0,76.2 2202.6,75.5 2204.2,77.2 2205.7,77.9 2207.2,80.3 2208.7,83.2 2210.2,85.1 2211.6,88.9 2215.2,103.1 2218.1,111.4 2221.1,97.2 2223.4,79.5 2227.0,68.9 2228.5,67.4 2230.1,66.4 2231.7,65.3 2233.0,64.7 2234.4,63.5 2235.7,64.3 2237.1,63.1 2238.4,62.1 2239.8,62.4 2241.1,61.9 2242.4,61.0 2243.8,61.5 2245.1,61.2 2246.4,60.7 2247.7,60.7 2249.0,59.9 2250.3,59.7 2251.6,60.4 2252.9,60.1 2254.3,59.6 2255.6,59.0 2256.9,58.1 2258.2,58.5 2259.6,57.4 2260.9,57.0 2262.2,57.9 2263.6,56.7 2264.9,57.8 2266.3,59.3 2267.7,59.4 2269.0,60.9 2270.5,60.5 2272.0,61.4 2273.4,61.5 2274.9,63.2 2276.3,63.3 2277.6,62.5 2279.0,62.6 2280.3,63.4 2281.6,63.4 2282.9,63.4 2284.2,63.4 2285.6,63.0 2286.9,63.5 2288.2,63.1 2289.5,63.4 2290.8,63.6 2292.2,63.0 2293.5,62.8 2294.8,63.2 2296.1,64.2 2297.4,63.2 2298.8,64.5 2300.1,63.4 2301.4,63.5 2302.7,64.0 2304.0,63.9 2305.4,63.4 2306.8,64.2 2308.3,63.8 2309.7,64.8 2311.2,64.5 2312.6,64.8 2314.1,65.8 2315.5,67.5 2317.0,67.6 2318.4,69.3 2319.9,71.1 2321.3,72.5 2322.8,72.0 2324.2,71.7 2325.7,72.0 2327.1,71.0 2328.6,71.2 2330.1,72.0 2331.5,73.7 2333.3,74.7 2335.1,75.6 2336.9,74.0 2338.8,73.1 2340.1,72.2 2341.4,71.7 2342.7,70.9 2344.0,69.8 2345.3,69.9 2346.8,69.5 2348.2,69.4 2349.7,68.7 2351.1,69.0 2352.6,69.6 2354.3,69.5 2356.0,70.8 2357.6,72.0 2359.1,72.7 2360.6,74.8 2362.0,73.9 2363.5,73.6 2364.9,73.6 2366.4,73.6 2367.8,73.0 2369.3,72.4"/>
<polyline class="cv" stroke="#0000ff" points="270.3,61.0 271.6,61.4 272.9,61.8 274.2,61.1 275.5,61.7 276.8,61.4 278.1,60.3 279.4,61.4 280.7,61.1 282.0,61.4 283.3,60.2 284.6,60.4 285.9,60.9 287.3,60.8 288.6,60.6 289.9,60.8 291.2,61.4 292.5,61.7 293.8,61.7 295.1,60.3 296.4,60.6 297.7,60.3 299.0,61.0 300.3,60.5 301.6,61.4 302.9,61.6 304.2,60.3 305.5,61.4 306.8,61.7 308.1,61.4 309.4,60.4 310.7,60.7 312.0,60.7 313.3,60.3 314.6,61.0 315.9,60.3 317.2,60.4 318.6,60.3 319.9,61.0 321.2,60.2 322.5,59.8 323.8,60.3 325.1,59.9 326.4,61.1 327.7,60.9 329.0,60.3 330.3,60.7 331.6,61.3 332.9,60.5 334.2,61.4 335.5,61.2 336.8,60.5 338.1,60.7 339.4,60.9 340.7,60.8 342.0,60.7 343.3,61.1 344.6,61.1 345.9,60.3 347.2,60.4 348.5,60.0 349.8,60.1 351.2,61.3 352.5,60.3 353.8,60.1 355.1,60.9 356.4,60.4 357.7,60.5 359.0,61.2 360.3,60.7 361.6,61.4 362.9,60.9 364.2,61.8 365.5,61.4 366.8,61.4 368.1,61.6 369.4,61.7 370.7,61.4 372.0,60.5 373.3,60.9 374.6,61.8 375.9,61.6 377.2,61.1 378.5,61.3 379.8,62.3 381.1,61.3 382.5,61.1 383.8,61.3 385.1,61.6 386.4,61.0 387.7,61.7 389.0,60.6 390.3,60.2 391.6,60.9 392.9,60.7 394.2,61.9 395.5,60.7 396.8,61.6 398.1,61.7 399.4,60.3 400.7,60.5 402.0,60.7 403.3,61.6 404.6,61.3 405.9,61.7 407.2,61.8 408.5,61.0 409.8,62.0 411.1,61.5 412.4,61.7 413.7,61.9 415.1,61.9 416.4,61.0 417.7,60.9 419.0,61.7 420.3,60.9 421.6,60.7 422.9,60.6 424.2,61.6 425.5,61.6 426.8,62.0 428.1,61.0 429.4,60.6 430.7,61.7 432.0,61.0 433.3,61.5 434.6,60.4 435.9,61.0 437.2,61.1 438.5,60.7 439.8,60.5 441.1,60.3 442.4,61.5 443.7,60.7 445.0,61.8 446.4,61.9 447.7,61.8 449.0,61.4 450.3,61.6 451.6,61.7 452.9,61.6 454.2,61.6 455.5,60.8 456.8,61.7 458.1,61.3 459.4,60.5 460.7,61.3 462.0,61.7 463.3,61.0 464.6,61.9 466.0,62.0 467.3,62.3 468.6,62.0 469.9,62.7 471.3,62.8 472.6,61.7 473.9,62.4 475.2,61.9 476.5,62.7 477.9,62.5 479.2,61.9 480.5,63.1 481.8,63.0 483.2,62.7 484.5,63.3 485.8,62.3 487.1,63.7 488.5,63.6 489.8,63.4 491.1,63.7 492.4,63.3 493.7,63.6 495.1,64.2 496.4,64.7 497.7,64.5 499.0,64.0 500.4,64.1 501.7,64.5 503.0,65.0 504.3,64.7 505.6,64.9 507.0,65.5 508.3,65.2 509.6,64.8 510.9,65.3 512.2,66.4 513.6,65.6 514.9,67.4 516.2,67.4 517.5,67.8 518.9,67.2 520.2,68.2 521.5,67.9 522.8,67.7 524.1,67.0 525.5,67.8 526.8,67.7 528.1,68.0 529.4,68.3 530.8,69.2 532.1,68.4 533.4,69.9 534.7,68.6 536.0,70.3 537.4,69.2 538.7,70.1 540.0,70.4 541.3,70.5 542.6,70.5 544.0,70.7 545.3,70.8 546.6,71.7 547.9,71.8 549.3,71.3 550.6,71.5 551.9,71.5 553.2,72.1 554.6,71.8 555.9,72.6 557.2,71.8 558.5,72.1 559.9,73.0 561.2,72.2 562.5,72.3 563.8,72.9 565.1,72.4 566.5,73.7 567.8,73.9 569.1,73.3 570.4,74.0 571.8,74.5 573.1,75.3 574.4,74.2 575.7,74.2 577.1,75.2 578.4,74.8 579.7,75.2 581.0,75.6 582.4,74.9 583.7,75.5 585.0,75.8 586.3,75.8 587.6,76.1 589.0,75.4 590.3,76.2 591.6,76.8 592.9,76.9 594.3,77.2 595.6,76.8 596.9,77.0 598.2,78.0 599.6,78.0 600.9,77.4 602.2,77.6 603.5,77.8 604.9,78.5 606.2,79.1 607.5,78.3 608.8,78.3 610.1,79.5 611.4,79.5 612.7,78.5 614.0,79.4 615.3,80.2 616.6,79.6 617.9,79.7 619.2,80.5 620.5,80.2 621.8,80.5 623.1,80.8 624.4,81.3 625.7,80.9 627.0,82.5 628.3,81.7 629.6,82.1 630.9,81.8 632.2,82.8 633.5,82.1 634.8,82.7 636.1,82.5 637.4,83.5 638.7,83.7 640.0,83.9 641.3,83.6 642.7,84.6 644.0,84.3 645.4,83.9 646.7,85.2 648.1,84.9 649.4,84.7 650.8,85.7 652.1,86.1 653.5,85.4 654.8,85.5 656.2,85.3 657.5,85.6 658.8,85.9 660.2,85.5 661.5,86.8 662.9,87.3 664.2,87.1 665.6,86.6 666.9,87.9 668.3,87.0 669.6,87.3 671.0,88.1 672.3,87.8 673.7,88.8 675.0,87.7 676.3,88.0 677.6,89.0 679.0,87.3 680.3,87.7 681.6,87.2 682.9,87.9 684.2,87.2 685.6,86.9 686.9,86.1 688.2,86.6 689.5,85.4 690.8,86.2 692.2,85.7 693.5,85.4 694.8,85.1 696.1,85.1 697.4,85.1 698.8,85.9 700.1,84.4 701.4,84.8 702.7,84.1 704.0,84.3 705.4,83.9 706.7,83.4 708.0,83.4 709.3,84.0 710.6,83.9 711.9,83.7 713.2,83.8 714.5,83.4 715.8,83.1 717.2,83.7 718.5,83.3 719.8,82.3 721.1,82.9 722.4,81.7 723.7,82.0 725.0,81.7 726.3,82.1 727.6,82.1 728.9,81.8 730.2,81.1 731.5,81.8 732.8,82.0 734.2,80.9 735.5,81.1 736.8,81.1 738.1,80.2 739.4,80.5 740.7,80.1 742.0,80.3 743.3,80.1 744.6,79.0 746.0,79.6 747.3,80.1 748.6,78.7 749.9,79.5 751.2,79.4 752.6,79.0 753.9,78.9 755.2,79.2 756.5,79.4 757.8,78.7 759.2,78.0 760.5,78.1 761.8,77.7 763.1,78.4 764.4,78.5 765.8,78.0 767.1,78.0 768.4,78.0 769.7,77.9 771.0,77.0 772.4,77.1 773.7,76.9 775.0,76.4 776.3,76.3 777.7,77.4 779.0,76.8 780.4,76.5 781.7,76.7 783.1,76.2 784.4,76.9 785.8,76.3 787.1,76.7 788.5,76.0 789.8,76.4 791.2,76.4 792.5,75.3 793.8,76.2 795.2,76.1 796.5,75.5 797.9,76.1 799.2,74.9 800.6,75.9 801.9,75.4 803.3,74.4 804.6,74.4 806.0,74.7 807.3,74.3 808.7,75.1 810.0,75.4 811.3,74.4 812.7,75.3 814.0,74.9 815.3,74.7 816.7,75.2 818.0,75.1 819.3,75.3 820.7,75.1 822.0,75.9 823.3,75.3 824.7,75.1 826.0,75.8 827.3,76.0 828.7,75.6 830.0,76.2 831.4,76.2 832.7,76.4 834.1,76.6 835.4,76.8 836.8,76.9 838.2,77.1 839.5,77.3 840.9,77.4 842.3,77.7 843.6,77.9 845.0,78.0 846.3,78.2 847.7,78.3 859.5,83.0 871.3,90.1 883.1,97.2 891.4,110.2 900.8,131.4 910.3,143.2 920.3,156.2 924.4,138.5 930.3,122.0 939.8,115.5 950.4,120.8 959.8,137.3 962.8,120.8 965.7,101.9 970.4,88.9 981.1,82.8 1007.0,76.9 1042.4,73.6 1090.0,71.8 1091.3,72.1 1092.6,71.6 1093.9,71.6 1095.2,72.0 1096.5,71.4 1097.8,71.7 1099.1,71.8 1100.4,71.3 1101.7,71.3 1103.0,71.7 1104.3,71.4 1105.6,71.1 1106.9,71.5 1108.2,71.3 1109.5,71.6 1110.8,71.2 1112.1,70.9 1113.4,71.1 1114.7,71.1 1116.0,70.8 1117.3,70.9 1118.6,71.1 1119.9,70.8 1121.2,70.9 1122.5,71.0 1123.9,70.6 1125.2,70.8 1126.5,70.9 1127.8,70.7 1129.1,71.0 1130.4,70.3 1131.7,71.0 1133.0,71.1 1134.3,70.7 1135.6,70.4 1136.9,71.0 1138.2,70.2 1139.5,70.6 1140.8,70.4 1142.1,70.8 1143.4,70.5 1144.7,70.8 1146.0,70.2 1147.3,70.4 1148.6,70.0 1149.9,70.1 1151.2,70.2 1152.5,70.3 1153.8,69.8 1155.1,69.9 1156.4,69.7 1157.7,69.5 1159.0,69.8 1160.3,70.0 1161.6,69.4 1162.9,69.6 1164.2,69.8 1165.5,69.6 1166.8,69.4 1168.1,69.6 1169.4,69.3 1170.7,69.6 1172.0,69.6 1173.3,69.5 1174.6,69.6 1175.9,69.3 1177.2,69.3 1178.5,68.8 1179.8,69.3 1181.1,69.5 1182.4,69.4 1183.7,69.2 1185.0,69.0 1186.3,68.9 1187.6,68.4 1188.9,68.7 1190.2,68.9 1191.5,68.6 1192.8,68.8 1194.2,68.2 1195.5,68.5 1196.8,68.1 1198.1,68.8 1199.4,68.5 1200.7,68.7 1202.0,67.8 1203.3,67.9 1204.6,68.4 1205.9,68.4 1207.2,68.4 1208.5,68.3 1209.8,68.4 1211.1,68.3 1212.4,68.2 1213.7,67.5 1215.0,67.5 1216.3,67.8 1217.6,67.8 1218.9,67.6 1220.2,68.0 1221.5,68.1 1222.8,67.5 1224.1,67.4 1225.4,67.6 1226.7,67.2 1228.0,67.5 1229.3,67.0 1230.6,68.8 1231.9,67.7 1233.2,67.2 1234.6,67.2 1235.9,68.1 1237.2,68.5 1238.5,66.1 1239.8,67.5 1241.1,66.8 1242.4,68.3 1243.7,67.9 1245.0,66.5 1246.3,67.6 1247.7,67.4 1249.0,68.4 1250.3,68.5 1251.6,68.4 1252.9,67.8 1254.2,66.4 1255.5,66.6 1256.8,67.5 1258.1,66.8 1259.4,67.5 1260.8,67.5 1262.1,66.2 1263.4,66.3 1264.7,67.5 1266.0,67.3 1267.3,65.4 1268.6,65.4 1269.9,66.6 1271.2,67.1 1272.6,66.9 1273.9,65.2 1275.2,66.6 1276.5,65.3 1277.8,66.4 1279.1,65.9 1280.4,65.5 1281.7,65.2 1283.0,66.1 1284.3,66.8 1285.7,65.1 1287.0,66.0 1288.3,65.7 1289.6,66.6 1290.9,65.7 1292.2,66.4 1293.5,66.4 1294.8,65.3 1296.1,66.2 1297.4,67.1 1298.8,65.0 1300.1,67.1 1301.4,66.0 1302.7,65.1 1304.0,66.3 1305.3,66.7 1306.6,65.7 1307.9,66.0 1309.2,66.2 1310.6,65.7 1311.9,66.5 1313.2,64.8 1314.5,65.6 1315.8,65.3 1317.1,64.7 1318.4,63.6 1319.7,64.9 1321.0,64.7 1322.3,65.4 1323.7,63.7 1325.0,65.3 1326.3,64.2 1327.6,64.5 1328.9,64.7 1330.2,64.6 1331.5,65.3 1332.8,65.4 1334.1,64.1 1335.4,64.1 1336.8,65.1 1338.1,64.7 1339.4,64.8 1340.7,64.0 1342.0,63.8 1343.3,63.1 1344.6,63.2 1345.9,64.2 1347.2,63.5 1348.6,64.4 1349.9,64.2 1351.2,62.5 1352.5,64.1 1353.8,63.3 1355.1,63.5 1356.4,62.5 1357.7,64.7 1359.0,64.1 1360.3,62.8 1361.7,63.8 1363.0,64.1 1364.3,63.9 1365.6,63.4 1366.9,63.8 1368.2,63.8 1369.5,63.1 1370.8,62.8 1372.1,64.4 1373.4,64.4 1374.8,63.2 1376.1,64.0 1377.4,64.0 1378.7,64.3 1380.0,62.8 1381.3,64.3 1382.6,63.1 1384.0,64.2 1385.3,62.5 1386.6,64.2 1387.9,63.4 1389.2,63.6 1390.6,61.7 1391.9,62.0 1393.2,63.7 1394.5,63.5 1395.8,63.8 1397.2,62.5 1398.5,64.0 1399.8,63.5 1401.1,63.5 1402.5,63.0 1403.8,61.4 1405.1,62.9 1406.4,60.9 1407.7,63.2 1409.1,62.4 1410.4,60.7 1411.7,61.3 1413.0,62.4 1414.3,61.3 1415.7,62.3 1417.0,63.0 1418.3,62.4 1419.6,61.8 1420.9,62.0 1422.3,63.5 1423.6,63.9 1424.9,62.6 1426.2,62.6 1427.5,64.1 1428.9,61.9 1430.2,61.5 1431.5,62.7 1432.8,61.5 1434.2,61.6 1435.5,61.2 1436.8,60.4 1438.1,60.4 1439.4,62.2 1440.8,60.4 1442.1,60.6 1443.4,59.9 1444.7,60.4 1446.0,60.7 1447.4,60.7 1448.7,60.6 1450.0,61.7 1451.3,61.1 1452.6,62.0 1453.9,60.1 1455.2,61.7 1456.5,61.4 1457.8,61.2 1459.1,60.5 1460.4,60.3 1461.7,60.1 1463.0,60.0 1464.3,60.6 1465.6,61.0 1466.9,60.2 1468.2,59.8 1469.5,61.2 1470.8,60.1 1472.1,61.6 1473.4,60.4 1474.7,61.7 1476.0,60.9 1477.3,62.9 1478.6,60.4 1479.9,62.0 1481.2,61.3 1482.5,62.5 1483.8,62.0 1485.1,60.5 1486.4,60.3 1487.7,59.7 1489.0,59.9 1490.3,61.6 1491.6,62.0 1492.9,61.9 1494.2,60.8 1495.5,60.4 1496.8,59.9 1498.1,61.4 1499.4,61.9 1500.7,59.8 1502.0,59.6 1503.3,59.9 1504.6,61.5 1505.9,62.2 1507.2,61.1 1508.5,60.3 1509.8,60.7 1511.1,62.4 1512.4,60.4 1513.7,61.6 1515.0,61.0 1516.3,59.4 1517.6,61.5 1518.9,60.7 1520.2,61.1 1521.5,61.5 1522.8,59.9 1524.1,58.7 1525.4,58.8 1526.7,60.6 1528.0,59.3 1529.3,59.3 1530.6,60.2 1531.9,58.4 1533.2,60.6 1534.5,60.6 1535.8,59.1 1537.2,59.7 1538.5,59.9 1539.8,59.3 1541.1,60.9 1542.4,60.5 1543.7,59.2 1545.0,60.4 1546.3,60.6 1547.6,59.2 1548.9,61.5 1550.2,61.0 1551.5,59.6 1552.8,60.7 1554.2,59.8 1555.5,60.7 1556.8,58.8 1558.1,59.8 1559.4,58.7 1560.7,59.8 1562.0,59.1 1563.3,60.9 1564.6,60.7 1565.9,60.7 1567.2,60.7 1568.5,60.9 1569.8,61.1 1571.2,60.2 1572.5,61.7 1573.8,62.2 1575.1,61.2 1576.4,61.1 1577.7,61.5 1579.0,61.0 1580.3,60.5 1581.6,61.0 1582.9,61.1 1584.2,61.3 1585.5,61.1 1586.8,60.8 1588.2,59.4 1589.5,59.7 1590.8,58.9 1592.1,60.9 1593.4,61.3 1594.7,60.8 1596.0,59.3 1597.5,61.2 1599.0,59.4 1600.5,58.9 1602.0,58.4 1607.7,59.4 1613.6,61.8 1618.3,73.6 1620.7,85.4 1622.5,114.9 1623.6,144.4 1625.4,168.0 1626.6,191.6 1628.9,227.0 1631.5,262.0 1635.4,227.0 1636.6,203.4 1638.4,168.0 1640.7,144.4 1644.3,129.1 1651.4,114.9 1659.6,105.5 1672.6,103.1 1685.6,101.9 1691.5,102.5 1698.6,103.1 1708.0,107.8 1719.8,112.6 1729.3,117.3 1737.5,125.5 1747.0,131.4 1755.2,125.5 1762.3,117.3 1768.2,114.3 1774.1,119.6 1781.2,132.6 1790.6,152.7 1797.7,165.7 1801.3,167.4 1806.0,159.8 1810.7,132.6 1814.2,120.8 1821.3,116.1 1828.4,116.1 1830.0,117.3 1840.6,126.7 1853.6,118.5 1868.9,109.6 1879.6,110.2 1889.0,109.0 1896.1,116.1 1902.0,132.6 1910.3,140.9 1916.2,153.9 1922.1,173.9 1925.6,188.1 1930.3,173.9 1936.2,153.9 1942.1,143.2 1948.0,156.2 1952.7,177.5 1956.3,183.4 1962.2,203.4 1968.1,221.1 1974.0,236.5 1977.5,243.6 1981.1,254.2 1984.6,243.6 1988.1,224.7 1992.9,214.1 1998.8,217.6 2005.9,218.8 2009.4,203.4 2014.1,185.7 2023.6,168.0 2033.0,150.3 2040.1,148.0 2046.0,132.6 2051.9,120.8 2063.7,114.3 2070.8,123.2 2075.8,130.3 2081.8,123.2 2087.7,116.1 2093.6,107.8 2099.5,96.0 2101.0,92.4 2102.5,88.6 2103.9,85.6 2105.4,82.3 2107.0,78.1 2108.6,74.8 2110.1,71.1 2111.9,69.4 2113.7,67.1 2115.0,66.0 2116.4,65.6 2117.8,65.8 2119.2,65.5 2120.6,64.6 2121.9,64.3 2123.3,62.8 2124.8,63.2 2126.2,62.4 2127.6,62.6 2129.0,62.3 2130.6,61.7 2132.2,61.0 2133.7,60.6 2137.3,70.1 2140.8,83.0 2142.6,91.3 2145.5,83.0 2147.3,79.1 2149.1,74.1 2150.5,73.9 2152.0,72.8 2153.5,71.6 2155.0,71.6 2156.5,72.4 2157.9,73.7 2159.4,75.0 2160.9,77.4 2162.6,79.8 2164.4,81.9 2168.0,72.4 2169.7,70.0 2171.5,67.3 2173.1,69.5 2174.6,72.0 2176.2,73.3 2177.6,76.5 2179.0,79.5 2180.4,83.2 2181.7,80.4 2183.1,78.4 2184.5,75.7 2186.3,71.2 2188.0,68.0 2189.4,67.5 2190.9,65.6 2192.3,65.6 2193.7,64.8 2195.1,63.5 2196.6,64.9 2198.1,67.4 2199.5,68.7 2201.0,70.2 2202.6,69.0 2204.2,68.6 2205.7,68.4 2207.2,69.4 2208.7,70.1 2210.2,70.3 2211.6,70.6 2213.2,72.8 2214.8,75.0 2216.3,76.8 2218.1,74.1 2219.9,71.8 2222.2,63.0 2224.0,61.9 2225.8,62.0 2227.6,63.4 2229.3,65.3 2230.8,65.1 2232.3,66.3 2233.8,68.1 2235.2,68.0 2236.7,67.9 2238.2,68.4 2239.7,67.5 2241.1,66.6 2242.6,67.8 2244.1,68.0 2245.6,67.3 2247.0,67.7 2248.4,68.1 2249.8,67.8 2251.2,67.4 2252.5,66.8 2253.9,66.6 2255.3,66.5 2256.7,66.7 2258.1,65.8 2259.5,65.4 2261.0,64.9 2262.4,65.0 2261.8,63.2 2263.2,64.1 2264.7,65.4 2266.1,66.1 2267.6,65.8 2269.0,65.8 2270.5,65.7 2272.0,66.8 2273.4,66.4 2274.9,67.0 2276.3,67.1 2277.6,67.3 2279.0,67.0 2280.3,66.6 2281.6,67.0 2282.9,67.3 2284.2,67.8 2285.6,66.8 2286.9,67.0 2288.2,67.4 2289.5,66.8 2290.8,67.7 2292.2,67.0 2293.5,67.9 2294.8,67.7 2296.1,68.4 2297.4,67.6 2298.8,68.3 2300.1,67.5 2301.4,68.2 2302.7,68.0 2304.0,67.1 2305.4,67.2 2306.8,67.7 2308.3,69.1 2309.7,68.7 2311.2,69.9 2312.6,70.3 2314.1,71.2 2315.5,72.1 2317.0,72.7 2318.4,73.3 2320.1,75.0 2321.8,76.3 2323.5,77.5 2325.2,77.4 2326.9,76.4 2328.6,74.1 2329.9,75.9 2331.2,78.2 2332.5,79.3 2333.8,80.1 2335.1,82.6 2336.4,81.2 2337.7,78.8 2339.1,77.5 2340.4,75.8 2341.7,74.3 2343.5,73.3 2345.3,72.7 2346.8,72.0 2348.2,71.6 2349.7,71.8 2351.1,71.5 2352.6,71.5 2354.0,72.4 2355.5,73.5 2356.9,73.3 2358.4,75.0 2359.8,76.1 2361.2,76.2 2362.5,75.8 2363.9,75.1 2365.2,74.4 2366.6,75.6 2367.9,74.2 2369.3,74.3"/>
<polyline class="cv" stroke="#ff00ff" points="270.3,59.0 271.6,58.7 272.9,58.3 274.2,58.5 275.5,59.5 276.8,58.9 278.1,59.1 279.4,58.6 280.7,58.8 282.0,58.9 283.3,58.5 284.6,59.1 285.9,58.7 287.3,58.7 288.6,59.4 289.9,58.5 291.2,59.8 292.5,59.1 293.8,59.2 295.1,59.7 296.4,59.1 297.7,58.9 299.0,59.8 300.3,58.7 301.6,58.9 302.9,59.3 304.2,59.5 305.5,58.7 306.8,58.6 308.1,59.1 309.4,59.7 310.7,59.8 312.0,58.7 313.3,59.3 314.6,59.2 315.9,58.7 317.2,58.4 318.6,59.4 319.9,58.9 321.2,59.1 322.5,58.5 323.8,59.3 325.1,59.4 326.4,58.0 327.7,58.5 329.0,59.0 330.3,59.0 331.6,58.2 332.9,59.1 334.2,58.4 335.5,59.1 336.8,58.6 338.1,58.8 339.4,58.0 340.7,58.1 342.0,59.0 343.3,59.5 344.6,58.8 345.9,60.2 347.2,59.3 348.5,59.2 349.8,59.7 351.2,59.1 352.5,59.7 353.8,59.1 355.1,59.4 356.4,59.5 357.7,60.0 359.0,59.9 360.3,59.5 361.6,59.2 362.9,59.7 364.2,58.9 365.5,59.6 366.8,59.3 368.1,59.2 369.4,59.0 370.7,59.7 372.0,59.4 373.3,59.2 374.6,58.6 375.9,59.1 377.2,59.3 378.5,58.7 379.8,59.5 381.1,59.9 382.5,59.7 383.8,58.6 385.1,59.0 386.4,58.8 387.7,59.1 389.0,59.2 390.3,58.3 391.6,58.5 392.9,58.7 394.2,59.2 395.5,58.7 396.8,59.0 398.1,59.4 399.4,58.3 400.7,58.3 402.0,58.6 403.3,59.1 404.6,58.6 405.9,57.9 407.2,58.7 408.5,58.3 409.8,58.3 411.1,59.0 412.4,59.6 413.7,59.9 415.1,58.9 416.4,59.4 417.7,59.3 419.0,58.9 420.3,59.6 421.6,59.8 422.9,59.1 424.2,58.8 425.5,59.2 426.8,59.5 428.1,59.0 429.4,59.0 430.7,59.4 432.0,58.2 433.3,58.8 434.6,58.2 435.9,58.5 437.2,59.1 438.5,58.0 439.8,58.1 441.1,58.0 442.4,58.5 443.7,59.6 445.0,58.4 446.4,59.3 447.7,59.8 449.0,58.7 450.3,59.2 451.6,59.9 452.9,59.2 454.2,58.3 455.5,58.3 456.8,58.9 458.1,58.6 459.4,58.5 460.7,59.1 462.0,58.8 463.3,58.7 464.6,59.2 466.0,59.2 467.3,59.2 468.6,58.9 469.9,59.6 471.3,59.5 472.6,60.2 473.9,60.2 475.2,60.4 476.5,60.6 477.9,60.8 479.2,61.1 480.5,60.6 481.8,60.3 483.2,60.9 484.5,60.8 485.8,61.2 487.1,61.4 488.5,60.7 489.8,60.9 491.1,60.9 492.4,61.5 493.7,61.0 495.1,62.0 496.4,62.0 497.7,61.5 499.0,62.8 500.4,61.3 501.7,62.9 503.0,61.4 504.3,62.4 505.6,62.4 507.0,62.2 508.3,62.9 509.6,63.2 510.9,62.8 512.2,63.8 513.6,63.3 514.9,64.6 516.2,63.3 517.5,63.5 518.9,63.9 520.2,64.7 521.5,64.8 522.8,64.9 524.1,65.3 525.5,64.8 526.8,65.2 528.1,64.8 529.4,64.6 530.8,64.7 532.1,66.1 533.4,64.9 534.7,66.7 536.0,65.6 537.4,67.0 538.7,66.7 540.0,66.2 541.3,67.0 542.6,66.9 544.0,66.9 545.3,66.2 546.6,67.0 547.9,66.9 549.3,67.2 550.6,67.4 551.9,67.6 553.2,67.6 554.6,67.7 555.9,68.7 557.2,67.7 558.5,67.7 559.9,68.1 561.2,69.2 562.5,69.4 563.8,69.6 565.1,69.8 566.5,70.6 567.8,70.7 569.1,69.6 570.4,69.7 571.8,70.9 573.1,71.3 574.4,71.0 575.7,71.6 577.1,71.3 578.4,70.8 579.7,71.1 581.0,70.8 582.4,71.9 583.7,71.7 585.0,71.7 586.3,72.1 587.6,72.1 589.0,72.7 590.3,72.7 591.6,72.5 592.9,73.2 594.3,73.3 595.6,73.3 596.9,72.9 598.2,74.0 599.6,74.0 600.9,74.9 602.2,75.3 603.5,74.4 604.9,75.4 606.2,75.0 607.5,75.7 608.8,75.8 610.1,75.5 611.4,76.8 612.7,76.4 614.0,76.7 615.3,77.1 616.6,77.2 617.9,77.7 619.2,77.5 620.5,76.7 621.8,77.6 623.1,77.2 624.4,77.1 625.7,78.5 627.0,78.3 628.3,77.7 629.6,78.0 630.9,79.2 632.2,78.6 633.5,78.8 634.8,78.5 636.1,79.1 637.4,80.3 638.7,80.0 640.0,79.8 641.3,79.4 642.7,80.6 644.0,79.8 645.4,80.0 646.7,81.3 648.1,80.2 649.4,80.9 650.8,81.7 652.1,80.9 653.5,81.5 654.8,82.1 656.2,82.1 657.5,82.4 658.8,82.8 660.2,83.0 661.5,82.5 662.9,83.8 664.2,83.8 665.6,83.1 666.9,84.3 668.3,83.9 669.6,84.4 671.0,83.6 672.3,85.1 673.7,84.5 675.0,84.4 676.3,85.2 677.6,84.1 679.0,84.0 680.3,83.3 681.6,83.2 682.9,83.3 684.2,83.6 685.6,83.1 686.9,82.6 688.2,83.0 689.5,82.1 690.8,82.0 692.2,82.2 693.5,81.9 694.8,81.3 696.1,81.2 697.4,80.8 698.8,82.0 700.1,81.1 701.4,81.3 702.7,81.4 704.0,80.8 705.4,81.7 706.7,81.1 708.0,81.3 709.3,80.1 710.6,80.7 711.9,79.8 713.2,79.8 714.5,80.0 715.8,79.4 717.2,80.2 718.5,80.1 719.8,79.9 721.1,80.1 722.4,79.1 723.7,79.2 725.0,79.0 726.3,79.9 727.6,78.7 728.9,78.5 730.2,78.2 731.5,78.4 732.8,79.2 734.2,79.3 735.5,79.0 736.8,78.5 738.1,78.6 739.4,78.2 740.7,77.5 742.0,78.2 743.3,76.8 744.6,76.2 746.0,76.5 747.3,77.0 748.6,75.8 749.9,77.1 751.2,75.3 752.6,76.3 753.9,75.3 755.2,76.4 756.5,75.6 757.8,76.1 759.2,75.9 760.5,75.6 761.8,75.4 763.1,76.0 764.4,75.3 765.8,75.1 767.1,74.8 768.4,73.8 769.7,74.6 771.0,73.9 772.4,73.6 773.7,74.2 775.0,73.0 776.3,74.3 777.7,74.0 779.0,74.4 780.4,73.0 781.7,73.3 783.1,73.4 784.4,72.9 785.8,73.5 787.1,73.2 788.5,72.7 789.8,72.5 791.2,72.7 792.5,72.1 793.8,72.4 795.2,72.9 796.5,71.4 797.9,71.3 799.2,71.8 800.6,72.2 801.9,71.3 803.3,71.7 804.6,70.4 806.0,70.3 807.3,70.4 808.7,70.2 810.0,70.6 811.3,71.0 812.7,70.9 814.0,71.1 815.3,71.4 816.7,71.5 818.0,71.1 819.3,71.3 820.7,71.1 822.0,71.9 823.3,72.0 824.7,72.5 826.0,71.9 827.3,72.8 828.7,72.6 830.0,72.9 831.4,72.7 832.7,72.8 834.1,72.9 835.4,72.9 836.8,73.1 838.2,73.1 839.5,73.2 840.9,73.2 842.3,73.2 843.6,73.4 845.0,73.5 846.3,73.5 847.7,73.6 859.5,78.3 871.3,85.4 883.1,90.7 890.2,101.9 896.1,113.7 903.2,123.2 910.3,131.4 919.1,142.1 924.4,127.9 930.3,116.1 939.8,111.4 950.4,117.3 959.8,135.0 963.4,122.0 966.9,101.9 971.6,91.3 981.1,85.4 1007.0,79.5 1042.4,76.6 1090.0,74.2 1091.3,74.1 1092.6,74.1 1093.9,74.3 1095.2,74.1 1096.5,73.8 1097.8,73.7 1099.1,74.3 1100.4,74.2 1101.7,74.1 1103.0,73.6 1104.3,73.3 1105.6,73.9 1106.9,73.4 1108.2,73.4 1109.5,73.5 1110.8,73.6 1112.1,73.0 1113.4,73.3 1114.7,73.4 1116.0,73.1 1117.3,73.1 1118.6,73.3 1119.9,73.0 1121.2,72.7 1122.5,72.8 1123.9,72.4 1125.2,72.5 1126.5,72.3 1127.8,72.2 1129.1,72.7 1130.4,72.3 1131.7,72.6 1133.0,71.8 1134.3,71.8 1135.6,71.7 1136.9,72.0 1138.2,71.4 1139.5,72.0 1140.8,71.9 1142.1,71.5 1143.4,71.3 1144.7,71.0 1146.0,71.3 1147.3,71.0 1148.6,71.3 1149.9,70.9 1151.2,70.9 1152.5,70.6 1153.8,70.4 1155.1,70.4 1156.4,70.9 1157.7,70.1 1159.0,70.4 1160.3,69.8 1161.6,70.5 1162.9,70.5 1164.2,70.1 1165.5,70.2 1166.8,70.0 1168.1,69.9 1169.4,70.6 1170.7,70.0 1172.0,70.2 1173.3,70.0 1174.6,69.9 1175.9,70.1 1177.2,70.3 1178.5,69.7 1179.8,69.9 1181.1,70.1 1182.4,70.1 1183.7,69.3 1185.0,69.4 1186.3,69.3 1187.6,69.3 1188.9,69.1 1190.2,69.3 1191.5,68.8 1192.8,68.5 1194.2,68.4 1195.5,68.2 1196.8,68.7 1198.1,68.3 1199.4,68.3 1200.7,68.1 1202.0,68.5 1203.3,68.5 1204.6,68.7 1205.9,68.4 1207.2,67.9 1208.5,68.0 1209.8,68.4 1211.1,68.4 1212.4,68.0 1213.7,67.7 1215.0,67.9 1216.3,67.9 1217.6,67.4 1218.9,67.9 1220.2,67.6 1221.5,67.2 1222.8,67.4 1224.1,67.5 1225.4,67.3 1226.7,66.9 1228.0,66.7 1229.3,66.3 1230.6,66.4 1231.9,65.7 1233.2,67.5 1234.6,65.4 1235.9,66.3 1237.2,65.5 1238.5,66.9 1239.8,66.0 1241.1,65.2 1242.4,65.8 1243.7,65.5 1245.0,66.7 1246.3,66.1 1247.7,66.9 1249.0,65.7 1250.3,66.9 1251.6,65.8 1252.9,65.3 1254.2,66.1 1255.5,66.0 1256.8,65.3 1258.1,67.0 1259.4,67.5 1260.8,66.7 1262.1,67.1 1263.4,66.5 1264.7,67.3 1266.0,67.1 1267.3,66.5 1268.6,66.5 1269.9,65.8 1271.2,66.8 1272.6,66.3 1273.9,65.5 1275.2,65.6 1276.5,67.1 1277.8,65.2 1279.1,66.1 1280.4,65.5 1281.7,66.1 1283.0,65.9 1284.3,66.2 1285.7,65.4 1287.0,65.2 1288.3,65.2 1289.6,65.5 1290.9,66.0 1292.2,65.8 1293.5,64.8 1294.8,65.4 1296.1,64.2 1297.4,65.2 1298.8,65.0 1300.1,65.3 1301.4,64.2 1302.7,65.6 1304.0,64.2 1305.3,64.5 1306.6,64.0 1307.9,63.7 1309.2,65.8 1310.6,63.9 1311.9,65.0 1313.2,63.7 1314.5,63.9 1315.8,64.6 1317.1,64.3 1318.4,64.0 1319.7,65.1 1321.0,63.1 1322.3,63.4 1323.7,63.5 1325.0,63.1 1326.3,63.3 1327.6,64.2 1328.9,62.8 1330.2,63.2 1331.5,63.9 1332.8,63.4 1334.1,63.0 1335.4,62.9 1336.8,62.5 1338.1,63.9 1339.4,64.3 1340.7,63.0 1342.0,62.1 1343.3,63.3 1344.6,63.5 1345.9,62.5 1347.2,63.1 1348.6,63.0 1349.9,63.1 1351.2,62.9 1352.5,63.3 1353.8,62.8 1355.1,63.7 1356.4,63.1 1357.7,62.7 1359.0,61.9 1360.3,61.5 1361.7,61.8 1363.0,63.4 1364.3,63.1 1365.6,61.2 1366.9,62.2 1368.2,61.3 1369.5,63.0 1370.8,61.9 1372.1,63.2 1373.4,63.5 1374.8,63.3 1376.1,61.7 1377.4,62.0 1378.7,61.3 1380.0,61.1 1381.3,61.6 1382.6,61.8 1384.0,60.6 1385.3,60.4 1386.6,60.6 1387.9,61.5 1389.2,62.0 1390.6,60.3 1391.9,60.9 1393.2,60.6 1394.5,60.4 1395.8,61.9 1397.2,61.4 1398.5,61.1 1399.8,61.0 1401.1,62.4 1402.5,62.4 1403.8,62.4 1405.1,62.0 1406.4,63.3 1407.7,61.1 1409.1,60.9 1410.4,62.4 1411.7,63.0 1413.0,60.6 1414.3,60.4 1415.7,61.4 1417.0,60.2 1418.3,61.3 1419.6,60.4 1420.9,62.5 1422.3,60.9 1423.6,60.3 1424.9,62.3 1426.2,62.1 1427.5,63.1 1428.9,60.7 1430.2,62.5 1431.5,63.0 1432.8,63.6 1434.2,62.6 1435.5,61.0 1436.8,61.6 1438.1,63.3 1439.4,63.0 1440.8,61.0 1442.1,62.1 1443.4,62.9 1444.7,60.7 1446.0,60.6 1447.4,62.8 1448.7,62.5 1450.0,61.5 1451.3,62.5 1452.6,62.3 1453.9,61.3 1455.2,61.3 1456.5,60.6 1457.8,61.2 1459.1,60.5 1460.4,59.4 1461.7,60.9 1463.0,61.1 1464.3,60.9 1465.6,59.8 1466.9,59.8 1468.2,59.6 1469.5,61.5 1470.8,60.7 1472.1,60.9 1473.4,58.5 1474.7,59.6 1476.0,58.2 1477.3,58.5 1478.6,58.8 1479.9,58.9 1481.2,60.2 1482.5,60.0 1483.8,59.4 1485.1,60.6 1486.4,59.0 1487.7,59.9 1489.0,58.3 1490.3,58.5 1491.6,58.8 1492.9,58.5 1494.2,60.3 1495.5,58.3 1496.8,58.3 1498.1,58.3 1499.4,59.8 1500.7,59.9 1502.0,58.5 1503.3,59.5 1504.6,59.3 1505.9,60.2 1507.2,59.1 1508.5,58.5 1509.8,59.0 1511.1,59.4 1512.4,58.7 1513.7,61.2 1515.0,58.9 1516.3,60.0 1517.6,59.3 1518.9,58.9 1520.2,59.1 1521.5,59.9 1522.8,58.7 1524.1,58.3 1525.4,59.0 1526.7,59.8 1528.0,58.7 1529.3,58.0 1530.6,59.7 1531.9,58.3 1533.2,58.9 1534.5,58.3 1535.8,60.2 1537.2,60.1 1538.5,57.8 1539.8,60.4 1541.1,59.0 1542.4,58.4 1543.7,59.2 1545.0,60.4 1546.3,60.4 1547.6,59.2 1548.9,59.6 1550.2,59.9 1551.5,59.2 1552.8,59.1 1554.2,58.7 1555.5,58.2 1556.8,60.5 1558.1,58.5 1559.4,58.1 1560.7,57.4 1562.0,58.0 1563.3,57.7 1564.6,57.4 1565.9,57.8 1567.2,57.7 1568.5,59.4 1569.8,58.7 1571.2,59.9 1572.5,59.5 1573.8,59.9 1575.1,59.6 1576.4,58.9 1577.7,58.8 1579.0,60.2 1580.3,59.5 1581.6,59.0 1582.9,59.4 1584.2,58.4 1585.5,58.6 1586.8,58.9 1588.2,57.4 1589.5,57.8 1590.8,57.6 1592.1,59.1 1593.4,57.9 1594.7,58.8 1596.0,57.3 1597.5,59.3 1599.0,56.7 1600.5,57.8 1602.0,56.7 1607.7,58.3 1613.6,60.6 1618.3,73.6 1621.3,97.2 1623.0,132.6 1624.8,168.0 1627.2,203.4 1629.5,238.8 1632.0,278.0 1639.0,227.0 1640.7,203.4 1643.1,173.9 1645.5,156.2 1650.2,138.5 1656.1,123.2 1663.2,113.7 1672.6,104.9 1684.4,102.5 1696.2,104.3 1702.1,111.4 1713.9,125.5 1719.8,130.3 1731.6,142.1 1741.1,150.3 1752.9,151.5 1761.1,145.6 1767.0,143.2 1771.8,150.3 1778.8,163.3 1785.9,177.5 1793.0,191.6 1799.5,197.5 1806.0,191.6 1810.7,173.9 1815.4,156.2 1819.0,144.4 1826.0,140.9 1830.0,143.2 1840.6,150.3 1853.6,143.2 1868.9,135.0 1879.6,129.1 1887.8,125.5 1894.9,135.0 1900.8,150.3 1906.7,163.3 1912.6,175.1 1917.3,185.7 1920.9,195.2 1925.0,203.4 1930.3,185.7 1935.0,168.0 1942.1,150.3 1946.8,168.0 1951.6,197.5 1957.5,209.3 1962.2,221.1 1966.9,234.1 1974.0,267.2 1978.7,284.9 1981.7,295.5 1984.6,284.9 1987.0,267.2 1991.7,243.6 1995.2,238.9 2000.0,247.1 2005.9,253.0 2010.6,243.6 2015.3,225.9 2019.4,211.7 2022.7,203.5 2025.4,195.4 2029.2,187.1 2035.4,173.9 2041.3,163.3 2045.6,154.4 2047.8,145.2 2051.1,138.2 2055.4,131.6 2061.3,125.5 2066.0,132.6 2071.9,144.4 2076.1,151.5 2084.2,142.1 2093.6,123.2 2101.9,106.7 2107.8,90.1 2109.2,86.8 2110.7,83.5 2112.2,80.0 2113.7,76.3 2115.0,75.3 2116.4,75.0 2117.8,74.6 2119.2,73.2 2120.6,73.2 2121.9,72.4 2123.3,72.0 2124.8,71.7 2126.2,71.5 2127.6,70.0 2129.0,70.6 2130.6,69.7 2132.2,69.6 2133.7,69.5 2135.5,72.7 2137.3,77.5 2140.8,88.9 2143.2,103.1 2145.5,88.9 2149.1,79.5 2150.5,78.2 2152.0,77.8 2153.5,77.4 2155.0,76.0 2156.5,77.4 2157.9,79.0 2159.4,81.3 2160.9,82.2 2162.6,86.1 2164.4,89.1 2168.0,78.3 2169.7,76.6 2171.5,73.6 2173.1,75.8 2174.6,78.0 2176.2,79.9 2180.9,94.8 2184.5,83.0 2186.3,78.8 2188.0,76.2 2189.4,75.7 2190.9,74.1 2192.3,74.3 2193.7,74.2 2195.1,73.3 2196.6,73.7 2198.1,75.0 2199.5,75.4 2201.0,75.3 2202.6,75.8 2204.2,75.8 2205.7,75.5 2207.2,77.3 2208.7,78.4 2210.2,78.8 2211.6,79.3 2213.2,80.7 2214.8,83.6 2216.3,85.4 2218.1,81.4 2219.9,77.5 2221.7,74.6 2223.4,70.9 2224.9,70.0 2226.4,71.2 2227.9,70.4 2229.3,71.3 2230.8,71.5 2232.3,72.0 2233.8,73.1 2235.2,73.8 2236.7,72.1 2238.2,71.6 2239.7,70.8 2241.1,71.5 2242.5,70.8 2243.8,71.6 2245.2,71.2 2246.5,71.3 2247.9,72.5 2249.2,71.5 2250.6,72.0 2252.0,70.8 2253.5,70.0 2255.0,69.7 2256.5,67.9 2257.9,68.0 2259.4,66.7 2260.9,65.4 2262.4,64.3 2261.8,64.0 2263.2,64.8 2264.7,65.0 2266.1,65.8 2267.6,67.5 2269.0,67.1 2270.4,68.0 2271.7,68.4 2273.0,67.6 2274.3,68.3 2275.7,67.9 2277.0,69.0 2278.3,68.4 2279.6,68.0 2280.9,68.5 2282.3,68.3 2283.6,68.6 2284.9,69.1 2286.2,69.3 2287.5,68.4 2288.9,69.8 2290.2,68.6 2291.5,69.7 2292.8,69.3 2294.1,68.3 2295.5,68.9 2296.8,69.4 2298.1,69.3 2299.4,69.2 2300.7,70.2 2302.1,68.9 2303.4,70.4 2304.7,69.9 2306.0,69.8 2307.3,70.9 2308.7,70.6 2310.0,71.2 2311.3,71.3 2312.6,70.6 2314.1,71.5 2315.5,72.4 2317.0,72.9 2318.4,73.5 2320.6,78.6 2322.8,90.8 2325.7,80.7 2327.4,81.2 2329.1,81.3 2330.8,81.1 2332.2,83.5 2333.7,87.0 2335.1,90.9 2338.8,80.7 2340.1,80.0 2341.4,79.3 2342.7,79.5 2344.0,78.2 2345.3,78.2 2346.8,77.8 2348.2,79.0 2349.7,78.8 2351.1,79.3 2352.6,78.6 2354.3,82.1 2356.0,84.1 2357.6,86.3 2359.1,86.7 2360.6,87.9 2362.0,87.5 2363.5,87.5 2364.9,86.9 2366.4,86.0 2367.8,84.1 2369.3,84.3"/>
<polyline class="cv" stroke="#008000" points="270.3,64.5 271.6,63.9 272.9,64.8 274.2,65.0 275.5,64.5 276.8,64.4 278.1,64.5 279.4,64.9 280.7,64.4 282.0,64.5 283.3,65.2 284.6,65.5 285.9,65.2 287.3,64.4 288.6,65.3 289.9,65.3 291.2,64.1 292.5,64.8 293.8,64.6 295.1,64.4 296.4,63.8 297.7,64.1 299.0,64.7 300.3,64.0 301.6,64.9 302.9,64.2 304.2,64.8 305.5,64.7 306.8,63.7 308.1,64.8 309.4,64.8 310.7,65.1 312.0,65.2 313.3,64.9 314.6,64.9 315.9,64.8 317.2,64.4 318.6,65.1 319.9,65.0 321.2,63.9 322.5,64.6 323.8,63.8 325.1,64.9 326.4,65.0 327.7,64.2 329.0,63.8 330.3,63.6 331.6,64.8 332.9,64.5 334.2,63.8 335.5,64.0 336.8,63.9 338.1,63.6 339.4,64.5 340.7,63.9 342.0,64.2 343.3,63.5 344.6,64.1 345.9,64.6 347.2,63.8 348.5,64.0 349.8,63.8 351.2,64.7 352.5,64.3 353.8,65.2 355.1,64.9 356.4,63.9 357.7,63.7 359.0,65.1 360.3,64.2 361.6,63.8 362.9,64.6 364.2,63.5 365.5,64.3 366.8,64.4 368.1,64.7 369.4,63.6 370.7,64.2 372.0,63.9 373.3,64.4 374.6,64.6 375.9,64.9 377.2,64.2 378.5,64.0 379.8,64.8 381.1,65.3 382.5,64.1 383.8,63.7 385.1,64.1 386.4,64.2 387.7,64.9 389.0,64.6 390.3,64.2 391.6,64.8 392.9,65.5 394.2,64.8 395.5,64.8 396.8,63.7 398.1,63.8 399.4,64.4 400.7,63.5 402.0,63.7 403.3,64.4 404.6,63.6 405.9,63.6 407.2,63.5 408.5,64.2 409.8,63.6 411.1,64.9 412.4,64.1 413.7,64.1 415.1,63.6 416.4,64.0 417.7,64.7 419.0,64.4 420.3,64.6 421.6,64.7 422.9,63.8 424.2,63.9 425.5,64.2 426.8,64.5 428.1,64.5 429.4,64.6 430.7,65.0 432.0,64.6 433.3,64.4 434.6,63.5 435.9,64.2 437.2,64.0 438.5,64.1 439.8,63.8 441.1,65.2 442.4,63.9 443.7,63.8 445.0,64.1 446.4,63.7 447.7,64.8 449.0,64.8 450.3,63.9 451.6,65.0 452.9,64.8 454.2,63.8 455.5,64.3 456.8,65.0 458.1,65.2 459.4,65.0 460.7,64.6 462.0,64.8 463.3,64.4 464.6,64.6 466.0,65.7 467.3,64.5 468.6,64.6 469.9,65.5 471.3,65.8 472.6,66.2 473.9,65.9 475.2,66.4 476.5,65.7 477.9,66.8 479.2,66.2 480.5,66.4 481.8,66.2 483.2,66.8 484.5,67.5 485.8,68.2 487.1,67.7 488.5,67.3 489.8,67.7 491.1,68.6 492.4,67.9 493.7,68.2 495.1,68.8 496.4,68.9 497.7,70.1 499.0,70.2 500.4,70.0 501.7,69.7 503.0,69.4 504.3,70.0 505.6,70.3 507.0,70.4 508.3,70.9 509.6,71.8 510.9,72.0 512.2,71.9 513.6,72.6 514.9,71.8 516.2,72.1 517.5,73.5 518.9,73.1 520.2,73.9 521.5,73.3 522.8,73.0 524.1,74.0 525.5,74.1 526.8,75.1 528.1,74.4 529.4,74.9 530.8,75.5 532.1,75.7 533.4,74.8 534.7,75.2 536.0,75.5 537.4,75.7 538.7,76.8 540.0,76.7 541.3,76.3 542.6,76.6 544.0,77.0 545.3,77.3 546.6,77.5 547.9,78.4 549.3,78.7 550.6,78.3 551.9,79.0 553.2,78.3 554.6,79.2 555.9,79.3 557.2,79.0 558.5,79.0 559.9,79.6 561.2,79.7 562.5,79.7 563.8,80.6 565.1,79.8 566.5,80.5 567.8,80.9 569.1,80.8 570.4,81.3 571.8,80.9 573.1,80.8 574.4,80.7 575.7,81.4 577.1,81.0 578.4,80.8 579.7,81.4 581.0,81.3 582.4,81.6 583.7,82.2 585.0,82.4 586.3,82.4 587.6,82.5 589.0,83.6 590.3,82.7 591.6,84.1 592.9,83.8 594.3,84.1 595.6,83.4 596.9,83.7 598.2,84.6 599.6,84.9 600.9,85.6 602.2,84.5 603.5,86.0 604.9,84.8 606.2,85.0 607.5,85.6 608.8,85.6 610.1,86.1 611.4,86.3 612.7,86.2 614.0,86.8 615.3,87.0 616.6,86.4 617.9,86.2 619.2,87.0 620.5,86.7 621.8,87.4 623.1,87.1 624.4,87.7 625.7,87.8 627.0,88.1 628.3,87.6 629.6,88.7 630.9,89.5 632.2,89.4 633.5,89.5 634.8,89.4 636.1,89.2 637.4,90.0 638.7,89.0 640.0,89.9 641.3,90.4 642.7,90.2 644.0,90.7 645.4,90.4 646.7,90.2 648.1,89.9 649.4,90.2 650.8,90.5 652.1,90.3 653.5,91.2 654.8,91.5 656.2,91.3 657.5,91.5 658.8,92.0 660.2,91.5 661.5,91.7 662.9,92.2 664.2,92.2 665.6,91.6 666.9,91.9 668.3,92.1 669.6,92.7 671.0,93.0 672.3,93.1 673.7,93.8 675.0,92.8 676.3,93.4 677.6,93.8 679.0,94.0 680.3,93.0 681.6,92.9 682.9,92.7 684.2,92.7 685.6,91.8 686.9,91.6 688.2,92.7 689.5,92.4 690.8,92.4 692.2,91.7 693.5,90.8 694.8,91.1 696.1,90.5 697.4,90.2 698.8,90.6 700.1,90.3 701.4,89.9 702.7,89.3 704.0,89.4 705.4,90.3 706.7,89.8 708.0,89.2 709.3,89.1 710.6,89.4 711.9,88.8 713.2,89.9 714.5,89.6 715.8,89.1 717.2,89.7 718.5,88.5 719.8,88.4 721.1,88.3 722.4,88.8 723.7,88.1 725.0,87.8 726.3,88.1 727.6,87.7 728.9,87.2 730.2,87.6 731.5,88.0 732.8,87.3 734.2,87.3 735.5,87.4 736.8,86.9 738.1,86.7 739.4,86.2 740.7,86.1 742.0,85.4 743.3,85.7 744.6,86.5 746.0,86.3 747.3,85.4 748.6,85.8 749.9,85.1 751.2,85.9 752.6,85.1 753.9,85.2 755.2,84.6 756.5,84.1 757.8,83.9 759.2,83.7 760.5,84.8 761.8,83.5 763.1,84.5 764.4,83.6 765.8,83.4 767.1,83.3 768.4,84.0 769.7,83.4 771.0,83.3 772.4,83.9 773.7,83.3 775.0,83.6 776.3,83.1 777.7,83.4 779.0,82.0 780.4,82.7 781.7,82.2 783.1,82.8 784.4,81.9 785.8,82.4 787.1,81.6 788.5,82.4 789.8,82.3 791.2,82.3 792.5,82.5 793.8,81.6 795.2,82.1 796.5,81.3 797.9,81.4 799.2,81.8 800.6,82.1 801.9,81.2 803.3,81.4 804.6,79.9 806.0,80.2 807.3,80.6 808.7,80.7 810.0,79.7 811.3,80.4 812.7,79.9 814.0,80.0 815.3,79.7 816.7,80.1 818.0,79.6 819.3,80.2 820.7,79.9 822.0,79.1 823.3,79.2 824.7,78.7 826.0,79.3 827.3,78.8 828.7,78.5 830.0,78.2 831.3,78.6 832.6,78.4 833.9,78.2 835.2,78.2 836.6,78.2 837.9,78.1 839.2,78.0 840.5,77.7 841.8,77.9 853.6,79.3 871.3,87.5 883.1,92.3 891.4,104.1 900.8,120.6 910.3,132.4 920.3,152.7 924.4,135.0 930.3,120.6 939.8,113.7 950.4,117.9 960.4,136.2 963.4,123.2 966.9,103.1 971.6,93.1 981.1,87.2 1007.0,81.6 1042.4,78.7 1090.0,76.0 1091.3,75.7 1092.6,75.8 1093.9,75.5 1095.2,75.6 1096.5,75.8 1097.8,75.3 1099.1,75.4 1100.4,75.3 1101.7,75.2 1103.0,75.5 1104.3,75.1 1105.6,74.9 1106.9,75.2 1108.2,75.4 1109.5,74.8 1110.8,74.6 1112.1,74.6 1113.4,74.6 1114.7,74.7 1116.0,74.4 1117.3,74.9 1118.6,74.8 1119.9,74.1 1121.2,74.3 1122.5,74.5 1123.9,74.7 1125.2,74.6 1126.5,74.4 1127.8,74.2 1129.1,74.4 1130.4,74.3 1131.7,73.7 1133.0,74.2 1134.3,73.9 1135.6,73.8 1136.9,74.3 1138.2,74.1 1139.5,74.0 1140.8,73.2 1142.1,73.9 1143.4,73.5 1144.7,73.7 1146.0,73.4 1147.3,73.4 1148.6,73.1 1149.9,73.3 1151.2,73.2 1152.5,72.9 1153.8,72.8 1155.1,72.9 1156.4,72.8 1157.7,72.8 1159.0,73.1 1160.3,72.4 1161.6,72.5 1162.9,72.3 1164.2,72.7 1165.5,72.8 1166.8,72.8 1168.1,72.3 1169.4,72.4 1170.7,72.0 1172.0,72.0 1173.3,72.4 1174.6,72.2 1175.9,72.0 1177.2,72.2 1178.5,72.0 1179.8,72.5 1181.1,72.5 1182.4,71.8 1183.7,72.2 1185.0,72.0 1186.3,71.7 1187.6,72.1 1188.9,71.4 1190.2,71.8 1191.5,72.0 1192.8,71.7 1194.2,71.1 1195.5,71.4 1196.8,71.2 1198.1,71.1 1199.4,71.2 1200.7,71.0 1202.0,70.9 1203.3,71.5 1204.6,71.2 1205.9,71.2 1207.2,71.2 1208.5,70.4 1209.8,70.4 1211.1,70.9 1212.4,70.5 1213.7,70.5 1215.0,70.8 1216.3,70.6 1217.6,70.9 1218.9,70.4 1220.2,70.6 1221.5,70.9 1222.8,70.7 1224.1,70.1 1225.4,70.1 1226.7,69.9 1228.0,70.1 1229.3,70.0 1230.6,68.7 1231.9,69.0 1233.2,69.6 1234.6,70.1 1235.9,69.5 1237.2,69.0 1238.5,68.6 1239.8,70.7 1241.1,70.5 1242.4,68.7 1243.7,69.3 1245.0,70.4 1246.3,69.3 1247.7,69.5 1249.0,70.3 1250.3,69.0 1251.6,69.4 1252.9,69.0 1254.2,69.8 1255.5,68.6 1256.8,69.2 1258.1,69.3 1259.4,69.5 1260.8,68.2 1262.1,68.3 1263.4,68.8 1264.7,69.4 1266.0,70.5 1267.3,70.3 1268.6,69.4 1269.9,68.6 1271.2,69.6 1272.6,68.2 1273.9,69.0 1275.2,68.8 1276.5,67.8 1277.8,68.5 1279.1,66.5 1280.4,68.3 1281.7,68.3 1283.0,67.2 1284.3,67.5 1285.7,68.7 1287.0,67.7 1288.3,67.1 1289.6,68.0 1290.9,66.5 1292.2,68.0 1293.5,67.3 1294.8,66.9 1296.1,66.6 1297.4,67.0 1298.8,68.4 1300.1,67.2 1301.4,66.7 1302.7,66.5 1304.0,66.4 1305.3,66.1 1306.6,66.2 1307.9,68.1 1309.2,67.3 1310.6,66.7 1311.9,66.7 1313.2,66.9 1314.5,68.1 1315.8,66.9 1317.1,65.7 1318.4,67.6 1319.7,66.9 1321.0,68.0 1322.3,67.7 1323.7,67.0 1325.0,66.5 1326.3,67.7 1327.6,67.1 1328.9,65.7 1330.2,66.9 1331.5,67.6 1332.8,66.9 1334.1,67.4 1335.4,67.4 1336.8,66.8 1338.1,65.7 1339.4,67.2 1340.7,65.9 1342.0,65.9 1343.3,65.7 1344.6,65.9 1345.9,66.4 1347.2,64.9 1348.6,64.9 1349.9,66.5 1351.2,65.4 1352.5,67.1 1353.8,65.8 1355.1,65.4 1356.4,66.0 1357.7,65.9 1359.0,66.3 1360.3,67.1 1361.7,65.3 1363.0,65.9 1364.3,65.9 1365.6,65.1 1366.9,64.7 1368.2,65.4 1369.5,64.9 1370.8,66.7 1372.1,66.6 1373.4,65.9 1374.8,66.9 1376.1,66.9 1377.4,65.4 1378.7,65.2 1380.0,66.8 1381.3,65.8 1382.6,65.6 1384.0,65.1 1385.3,65.0 1386.6,66.7 1387.9,65.3 1389.2,64.4 1390.6,66.3 1391.9,65.2 1393.2,64.6 1394.5,64.5 1395.8,65.0 1397.2,65.5 1398.5,65.0 1399.8,66.3 1401.1,66.5 1402.5,66.1 1403.8,66.2 1405.1,66.0 1406.4,66.0 1407.7,63.6 1409.1,66.3 1410.4,63.6 1411.7,65.7 1413.0,65.6 1414.3,66.5 1415.7,66.4 1417.0,64.4 1418.3,66.0 1419.6,65.7 1420.9,65.0 1422.3,65.3 1423.6,66.3 1424.9,65.6 1426.2,65.3 1427.5,66.3 1428.9,64.8 1430.2,66.4 1431.5,65.9 1432.8,65.6 1434.2,65.5 1435.5,64.9 1436.8,65.9 1438.1,64.1 1439.4,64.8 1440.8,64.8 1442.1,64.1 1443.4,64.7 1444.7,66.0 1446.0,66.1 1447.4,63.6 1448.7,64.2 1450.0,63.4 1451.3,63.8 1452.6,64.9 1453.9,62.9 1455.2,63.0 1456.5,64.9 1457.8,64.6 1459.1,65.0 1460.4,65.7 1461.7,64.3 1463.0,65.6 1464.3,64.2 1465.6,65.3 1466.9,65.4 1468.2,65.3 1469.5,66.0 1470.8,65.2 1472.1,64.6 1473.4,65.2 1474.7,65.3 1476.0,65.7 1477.3,64.9 1478.6,63.8 1479.9,64.8 1481.2,66.4 1482.5,66.1 1483.8,66.1 1485.1,64.6 1486.4,64.8 1487.7,66.2 1489.0,64.4 1490.3,65.6 1491.6,66.0 1492.9,66.3 1494.2,64.3 1495.5,66.4 1496.8,64.7 1498.1,64.4 1499.4,65.9 1500.7,65.4 1502.0,64.6 1503.3,66.0 1504.6,66.0 1505.9,66.5 1507.2,66.1 1508.5,65.7 1509.8,64.3 1511.1,66.4 1512.4,64.7 1513.7,66.1 1515.0,64.6 1516.3,64.8 1517.6,66.4 1518.9,66.5 1520.2,65.2 1521.5,65.5 1522.8,65.1 1524.1,66.6 1525.4,67.1 1526.7,64.4 1528.0,65.3 1529.3,65.9 1530.6,64.5 1531.9,64.1 1533.2,64.0 1534.5,66.6 1535.8,66.0 1537.2,65.2 1538.5,65.5 1539.8,64.1 1541.1,64.1 1542.4,66.0 1543.7,65.2 1545.0,64.6 1546.3,65.7 1547.6,66.1 1548.9,65.3 1550.2,64.3 1551.5,63.8 1552.8,65.6 1554.2,63.8 1555.5,63.3 1556.8,66.0 1558.1,65.5 1559.4,63.9 1560.7,64.2 1562.0,65.3 1563.3,66.2 1564.6,66.0 1565.9,64.3 1567.2,64.5 1568.5,63.1 1569.8,64.4 1571.2,65.1 1572.5,65.7 1573.8,66.2 1575.1,65.5 1576.4,65.3 1577.7,63.7 1579.0,64.7 1580.3,64.0 1581.6,66.3 1582.9,63.9 1584.2,65.9 1585.5,65.9 1586.8,65.7 1588.2,63.5 1589.5,63.8 1590.8,65.2 1592.1,63.6 1593.4,64.0 1594.7,63.2 1596.0,65.5 1597.5,64.5 1599.0,62.9 1600.5,61.7 1602.0,60.2 1607.7,63.0 1613.6,65.3 1618.3,76.0 1620.9,87.8 1622.7,114.9 1623.9,144.4 1625.4,168.0 1626.8,191.6 1628.9,227.0 1631.3,252.0 1634.6,227.0 1635.4,203.4 1637.2,168.0 1639.6,144.4 1643.1,129.1 1650.2,114.9 1660.8,104.9 1672.6,106.7 1684.4,106.1 1693.9,107.2 1699.8,112.6 1705.7,123.2 1712.7,133.8 1719.8,137.3 1729.3,143.2 1737.5,149.7 1743.4,150.3 1752.9,145.6 1761.1,139.7 1767.0,137.9 1771.8,142.1 1778.8,151.5 1785.9,163.3 1793.0,175.1 1799.5,179.2 1806.0,172.7 1810.7,156.2 1814.2,144.4 1820.1,136.2 1827.2,134.4 1830.0,135.0 1840.6,144.4 1853.6,137.3 1868.9,127.9 1879.6,120.8 1887.8,118.5 1896.1,126.7 1903.2,142.1 1910.3,156.2 1917.3,170.4 1924.4,177.5 1928.0,172.7 1931.5,156.2 1936.2,142.1 1944.5,133.8 1949.2,144.4 1952.7,168.0 1958.6,171.6 1963.4,185.7 1966.9,202.2 1972.8,208.1 1976.3,221.1 1977.5,231.8 1981.1,244.8 1984.6,231.8 1987.0,209.3 1992.3,202.2 1997.6,211.7 2003.5,218.8 2005.9,230.6 2011.8,203.4 2018.8,183.4 2028.3,165.7 2036.5,158.6 2042.4,159.8 2048.3,151.5 2054.2,142.1 2060.1,132.6 2067.2,126.7 2071.9,131.4 2075.5,133.8 2078.3,119.6 2087.7,110.2 2093.6,101.9 2099.5,91.3 2101.0,87.8 2102.5,85.4 2103.9,82.6 2105.4,80.7 2107.0,77.0 2108.6,74.9 2110.1,71.0 2111.9,69.3 2113.7,66.9 2115.0,68.1 2116.4,67.2 2117.8,67.3 2119.2,68.0 2120.6,67.4 2121.9,68.1 2123.3,68.1 2124.8,67.7 2126.2,67.0 2127.6,67.8 2129.0,68.1 2130.6,67.4 2132.2,66.4 2133.7,66.8 2135.5,69.5 2137.3,73.6 2140.8,85.4 2143.2,99.6 2145.5,87.8 2149.1,78.3 2150.5,77.4 2152.0,76.2 2153.5,75.0 2155.0,74.8 2156.5,76.1 2157.9,78.3 2159.4,80.8 2160.9,82.7 2162.4,87.1 2163.8,89.7 2168.0,79.5 2169.7,79.3 2171.5,78.6 2173.1,79.8 2174.6,80.7 2176.2,80.1 2177.8,84.3 2179.4,87.6 2180.9,90.5 2182.7,89.7 2184.5,87.3 2186.3,91.0 2188.0,95.3 2189.6,96.3 2191.2,98.9 2192.7,100.3 2197.5,85.4 2199.0,82.9 2200.6,79.0 2202.2,77.3 2203.8,76.5 2205.3,77.4 2206.9,76.8 2208.5,78.5 2210.1,80.4 2211.6,83.1 2213.0,86.5 2214.4,89.1 2215.8,92.2 2219.9,79.5 2221.7,76.5 2223.4,73.3 2224.9,74.4 2226.4,76.2 2227.9,76.6 2229.3,77.3 2230.8,77.5 2232.3,78.9 2233.8,79.1 2235.2,81.2 2236.8,79.7 2238.4,79.2 2240.0,78.4 2241.4,78.8 2242.8,77.7 2244.2,77.6 2245.6,77.2 2247.0,76.6 2248.4,76.4 2249.9,75.6 2251.3,74.7 2252.7,73.8 2254.1,73.1 2255.5,72.6 2256.9,71.9 2258.2,72.0 2259.6,70.7 2261.0,71.0 2262.4,69.7 2261.8,70.5 2263.2,70.5 2264.7,69.9 2266.1,70.2 2267.6,71.4 2269.0,71.2 2270.5,71.1 2272.0,72.0 2273.4,72.4 2274.9,71.9 2276.3,73.4 2277.8,72.7 2279.2,73.4 2280.7,72.9 2282.1,74.0 2283.6,73.2 2285.0,72.8 2286.5,71.5 2287.9,71.6 2289.4,70.4 2290.8,68.8 2292.3,69.4 2293.7,69.0 2295.2,67.4 2296.6,66.9 2298.1,66.6 2299.5,67.6 2301.0,67.8 2302.5,67.4 2303.9,67.3 2305.4,67.5 2306.8,69.1 2308.3,70.1 2309.7,70.9 2311.2,70.4 2312.6,71.7 2314.1,72.7 2315.5,73.4 2317.0,74.8 2318.4,76.8 2322.8,92.3 2325.7,82.1 2327.1,80.8 2328.6,79.5 2330.4,82.5 2332.2,83.9 2335.1,96.6 2338.0,83.6 2339.9,80.6 2341.7,78.1 2343.1,76.4 2344.6,76.4 2346.0,76.1 2347.5,74.4 2348.9,74.7 2350.4,75.8 2351.8,76.9 2353.3,77.1 2354.7,76.8 2356.2,76.3 2357.6,76.4 2359.1,75.9 2360.6,74.0 2362.0,73.7 2363.5,72.3 2364.9,71.9 2366.4,70.7 2367.8,70.5 2369.3,69.8"/>
<polyline class="cv" stroke="#000080" points="270.3,62.0 271.6,61.7 272.9,61.0 274.2,61.9 275.5,61.2 276.8,61.1 278.1,62.0 279.4,61.9 280.7,61.3 282.0,61.3 283.3,62.5 284.6,62.3 285.9,62.5 287.3,62.1 288.6,62.5 289.9,62.4 291.2,62.2 292.5,62.3 293.8,61.7 295.1,62.1 296.4,62.0 297.7,62.8 299.0,61.9 300.3,62.7 301.6,61.5 302.9,62.0 304.2,62.4 305.5,61.3 306.8,61.5 308.1,61.1 309.4,62.0 310.7,61.9 312.0,61.4 313.3,62.7 314.6,61.7 315.9,61.7 317.2,62.1 318.6,61.7 319.9,61.5 321.2,61.8 322.5,61.9 323.8,61.6 325.1,61.6 326.4,61.9 327.7,61.7 329.0,61.2 330.3,61.6 331.6,62.4 332.9,61.8 334.2,61.8 335.5,61.9 336.8,62.9 338.1,61.9 339.4,62.0 340.7,62.3 342.0,61.8 343.3,61.6 344.6,62.7 345.9,62.3 347.2,62.7 348.5,62.8 349.8,62.9 351.2,61.8 352.5,62.9 353.8,62.3 355.1,61.7 356.4,63.0 357.7,62.7 359.0,62.5 360.3,61.6 361.6,61.4 362.9,61.8 364.2,62.3 365.5,62.5 366.8,62.7 368.1,61.7 369.4,62.0 370.7,62.1 372.0,62.3 373.3,62.7 374.6,62.7 375.9,61.5 377.2,61.2 378.5,61.9 379.8,61.5 381.1,62.1 382.5,61.6 383.8,62.9 385.1,62.5 386.4,61.6 387.7,62.7 389.0,61.9 390.3,61.5 391.6,61.3 392.9,61.7 394.2,62.5 395.5,62.6 396.8,62.1 398.1,62.8 399.4,61.9 400.7,62.7 402.0,62.4 403.3,62.6 404.6,63.5 405.9,62.9 407.2,63.6 408.5,62.8 409.8,62.3 411.1,63.2 412.4,62.3 413.7,61.9 415.1,62.2 416.4,62.3 417.7,61.4 419.0,62.6 420.3,62.4 421.6,62.4 422.9,62.4 424.2,61.6 425.5,62.5 426.8,62.1 428.1,61.8 429.4,61.4 430.7,62.0 432.0,61.6 433.3,61.7 434.6,62.3 435.9,62.6 437.2,62.6 438.5,62.6 439.8,62.7 441.1,62.5 442.4,62.2 443.7,63.2 445.0,62.8 446.4,61.7 447.7,61.9 449.0,62.3 450.3,62.4 451.6,62.5 452.9,62.9 454.2,62.8 455.5,61.9 456.8,62.3 458.1,62.7 459.4,62.8 460.7,62.0 462.0,62.2 463.3,61.9 464.6,62.4 466.0,63.0 467.3,62.5 468.6,63.8 469.9,64.0 471.3,62.8 472.6,64.1 473.9,64.2 475.2,64.1 476.5,63.2 477.9,63.8 479.2,63.8 480.5,64.5 481.8,64.6 483.2,64.7 484.5,64.9 485.8,64.7 487.1,64.5 488.5,65.0 489.8,65.0 491.1,66.2 492.4,66.2 493.7,66.3 495.1,65.8 496.4,66.8 497.7,66.5 499.0,67.5 500.4,66.6 501.7,67.5 503.0,67.6 504.3,68.1 505.6,67.7 507.0,67.5 508.3,68.4 509.6,68.2 510.9,68.5 512.2,69.2 513.6,69.2 514.9,69.1 516.2,70.8 517.5,70.9 518.9,71.1 520.2,71.2 521.5,72.0 522.8,71.9 524.1,71.4 525.5,71.8 526.8,72.8 528.1,71.7 529.4,72.4 530.8,72.3 532.1,72.6 533.4,73.1 534.7,74.0 536.0,74.1 537.4,74.4 538.7,74.7 540.0,75.0 541.3,74.6 542.6,75.1 544.0,75.0 545.3,74.9 546.6,76.2 547.9,76.9 549.3,76.1 550.6,77.7 551.9,77.1 553.2,78.1 554.6,78.7 555.9,77.6 557.2,78.9 558.5,79.0 559.9,80.1 561.2,79.6 562.5,80.3 563.8,79.9 565.1,80.5 566.5,80.0 567.8,80.3 569.1,80.5 570.4,82.0 571.8,81.6 573.1,81.5 574.4,81.7 575.7,82.6 577.1,83.2 578.4,82.7 579.7,83.9 581.0,83.9 582.4,85.1 583.7,84.6 585.0,84.8 586.3,86.3 587.6,86.7 589.0,86.9 590.3,86.4 591.6,87.9 592.9,88.1 594.3,87.8 595.6,87.3 596.9,88.6 598.2,88.1 599.6,88.9 600.9,88.9 602.2,88.6 603.5,90.2 604.9,90.5 606.2,89.5 607.5,89.4 608.8,91.0 610.1,91.6 611.4,91.7 612.7,90.9 614.0,91.2 615.3,92.2 616.6,91.4 617.9,92.1 619.2,92.9 620.5,93.1 621.8,92.4 623.1,92.9 624.4,93.0 625.7,93.4 627.0,93.7 628.3,93.7 629.6,94.9 630.9,94.9 632.2,95.0 633.5,94.7 634.8,95.6 636.1,96.1 637.4,96.3 638.7,96.4 640.0,97.1 641.3,96.5 642.7,97.6 644.0,97.1 645.4,97.1 646.7,98.2 648.1,98.0 649.4,97.9 650.8,99.2 652.1,98.7 653.5,99.8 654.8,98.6 656.2,100.0 657.5,99.1 658.8,99.8 660.2,100.7 661.5,99.6 662.9,99.8 664.2,99.7 665.6,101.1 666.9,100.9 668.3,100.4 669.6,101.7 671.0,101.5 672.3,102.0 673.7,103.1 675.0,103.2 676.3,102.7 677.6,101.9 679.0,101.6 680.3,102.2 681.6,101.7 682.9,101.4 684.2,100.6 685.6,101.7 686.9,101.6 688.2,100.6 689.5,101.0 690.8,100.2 692.2,100.5 693.5,100.9 694.8,100.3 696.1,99.4 697.4,99.6 698.8,100.1 700.1,99.9 701.4,99.9 702.7,100.1 704.0,99.5 705.4,98.5 706.7,99.9 708.0,99.2 709.3,98.1 710.6,98.8 711.9,97.8 713.2,97.8 714.5,98.2 715.8,97.1 717.2,97.5 718.5,96.3 719.8,96.1 721.1,96.7 722.4,96.1 723.7,96.4 725.0,95.7 726.3,96.7 727.6,96.4 728.9,95.1 730.2,95.4 731.5,95.3 732.8,94.5 734.2,94.6 735.5,95.2 736.8,94.4 738.1,93.9 739.4,93.8 740.7,93.6 742.0,93.6 743.3,93.7 744.6,93.0 746.0,92.9 747.3,93.3 748.6,93.5 749.9,91.9 751.2,91.4 752.6,90.9 753.9,91.4 755.2,91.4 756.5,90.6 757.8,90.1 759.2,90.1 760.5,90.2 761.8,90.4 763.1,88.6 764.4,88.7 765.8,89.0 767.1,89.3 768.4,88.9 769.7,88.1 771.0,87.8 772.4,88.7 773.7,87.9 775.0,87.2 776.3,87.4 777.7,86.8 779.0,87.1 780.4,86.6 781.7,87.2 783.1,87.2 784.4,87.0 785.8,86.5 787.1,85.5 788.5,86.4 789.8,85.0 791.2,84.6 792.5,84.6 793.8,85.6 795.2,84.3 796.5,84.6 797.9,84.1 799.2,84.7 800.6,83.4 801.9,83.8 803.3,83.5 804.6,83.8 806.0,82.8 807.3,83.8 808.7,83.0 810.0,83.0 811.3,82.6 812.7,82.9 814.0,82.9 815.3,82.6 816.7,82.4 818.0,82.4 819.3,81.5 820.7,81.5 822.0,81.6 823.3,81.1 824.7,81.4 826.0,80.9 827.3,80.7 828.7,80.3 830.0,80.9 831.3,80.5 832.6,80.2 833.9,80.3 835.2,80.5 836.6,80.3 837.9,80.5 839.2,80.3 840.5,80.5 841.8,80.4 853.6,81.9 871.3,90.1 883.1,94.8 891.4,106.7 900.8,123.2 910.3,135.0 920.3,155.0 924.4,137.3 930.3,123.2 939.8,116.7 950.4,120.8 960.4,138.5 963.4,125.5 966.9,105.5 971.6,96.0 981.1,90.1 1007.0,84.2 1042.4,81.3 1090.0,78.3 1091.3,78.1 1092.6,78.5 1093.9,77.9 1095.2,78.1 1096.5,77.5 1097.8,78.2 1099.1,77.8 1100.4,77.6 1101.7,77.9 1103.0,77.7 1104.3,77.7 1105.6,77.8 1106.9,77.9 1108.2,77.9 1109.5,77.5 1110.8,77.9 1112.1,77.3 1113.4,77.4 1114.7,77.3 1116.0,76.8 1117.3,77.0 1118.6,77.3 1119.9,77.0 1121.2,77.1 1122.5,77.1 1123.9,76.5 1125.2,77.3 1126.5,77.1 1127.8,76.9 1129.1,76.7 1130.4,76.3 1131.7,76.8 1133.0,76.2 1134.3,76.4 1135.6,76.2 1136.9,76.2 1138.2,76.1 1139.5,76.1 1140.8,75.8 1142.1,76.2 1143.4,76.4 1144.7,76.1 1146.0,75.5 1147.3,76.1 1148.6,75.9 1149.9,75.6 1151.2,75.8 1152.5,75.7 1153.8,75.5 1155.1,75.5 1156.4,75.6 1157.7,75.3 1159.0,75.9 1160.3,75.5 1161.6,75.3 1162.9,75.3 1164.2,75.8 1165.5,75.3 1166.8,75.5 1168.1,75.0 1169.4,75.1 1170.7,75.1 1172.0,75.0 1173.3,75.0 1174.6,74.6 1175.9,74.6 1177.2,74.6 1178.5,74.3 1179.8,74.4 1181.1,74.0 1182.4,74.0 1183.7,74.4 1185.0,74.1 1186.3,74.2 1187.6,73.9 1188.9,74.2 1190.2,73.9 1191.5,74.0 1192.8,74.0 1194.2,73.6 1195.5,74.0 1196.8,74.2 1198.1,73.8 1199.4,73.7 1200.7,73.8 1202.0,73.9 1203.3,73.4 1204.6,73.6 1205.9,73.3 1207.2,73.1 1208.5,72.8 1209.8,72.9 1211.1,73.2 1212.4,73.1 1213.7,73.2 1215.0,72.5 1216.3,72.6 1217.6,72.7 1218.9,73.0 1220.2,72.8 1221.5,72.6 1222.8,72.9 1224.1,72.7 1225.4,72.2 1226.7,72.3 1228.0,72.7 1229.3,72.0 1230.6,71.3 1231.9,72.6 1233.2,71.8 1234.6,71.9 1235.9,72.7 1237.2,71.6 1238.5,72.8 1239.8,71.9 1241.1,70.7 1242.4,70.5 1243.7,72.1 1245.0,71.1 1246.3,71.7 1247.7,70.8 1249.0,71.4 1250.3,72.2 1251.6,70.3 1252.9,72.0 1254.2,72.5 1255.5,71.8 1256.8,72.1 1258.1,71.9 1259.4,70.7 1260.8,72.1 1262.1,70.7 1263.4,71.3 1264.7,71.8 1266.0,72.7 1267.3,70.8 1268.6,70.9 1269.9,71.8 1271.2,71.6 1272.6,69.6 1273.9,71.1 1275.2,69.8 1276.5,70.7 1277.8,70.3 1279.1,70.0 1280.4,69.7 1281.7,70.6 1283.0,69.2 1284.3,70.7 1285.7,70.7 1287.0,70.7 1288.3,68.9 1289.6,68.8 1290.9,69.3 1292.2,68.8 1293.5,68.7 1294.8,70.2 1296.1,68.6 1297.4,69.4 1298.8,69.3 1300.1,69.1 1301.4,68.4 1302.7,69.2 1304.0,69.5 1305.3,69.9 1306.6,68.6 1307.9,69.6 1309.2,69.1 1310.6,68.1 1311.9,67.8 1313.2,68.2 1314.5,67.9 1315.8,69.5 1317.1,67.9 1318.4,68.9 1319.7,68.5 1321.0,69.2 1322.3,69.8 1323.7,69.6 1325.0,69.1 1326.3,68.6 1327.6,69.4 1328.9,69.7 1330.2,68.7 1331.5,69.5 1332.8,68.8 1334.1,68.9 1335.4,68.7 1336.8,68.7 1338.1,68.5 1339.4,67.6 1340.7,68.6 1342.0,69.2 1343.3,69.2 1344.6,70.1 1345.9,68.1 1347.2,68.7 1348.6,68.0 1349.9,68.3 1351.2,68.6 1352.5,68.2 1353.8,68.4 1355.1,68.1 1356.4,68.7 1357.7,67.9 1359.0,67.7 1360.3,68.4 1361.7,67.7 1363.0,67.3 1364.3,67.3 1365.6,69.4 1366.9,67.7 1368.2,67.8 1369.5,66.7 1370.8,68.6 1372.1,67.1 1373.4,66.6 1374.8,67.7 1376.1,67.4 1377.4,66.8 1378.7,67.3 1380.0,67.2 1381.3,68.5 1382.6,67.6 1384.0,66.4 1385.3,68.6 1386.6,67.8 1387.9,68.3 1389.2,67.4 1390.6,65.7 1391.9,66.6 1393.2,65.4 1394.5,66.2 1395.8,65.8 1397.2,65.1 1398.5,66.4 1399.8,64.6 1401.1,66.7 1402.5,64.3 1403.8,65.7 1405.1,66.1 1406.4,66.7 1407.7,65.4 1409.1,66.6 1410.4,66.3 1411.7,65.1 1413.0,65.6 1414.3,65.3 1415.7,66.4 1417.0,64.7 1418.3,64.0 1419.6,65.1 1420.9,65.2 1422.3,66.9 1423.6,67.2 1424.9,66.6 1426.2,65.0 1427.5,65.2 1428.9,64.7 1430.2,65.5 1431.5,65.5 1432.8,66.2 1434.2,67.3 1435.5,64.5 1436.8,65.4 1438.1,65.3 1439.4,64.3 1440.8,65.8 1442.1,65.4 1443.4,65.8 1444.7,65.0 1446.0,65.0 1447.4,65.0 1448.7,63.4 1450.0,62.9 1451.3,63.8 1452.6,62.6 1453.9,64.5 1455.2,63.9 1456.5,63.9 1457.8,63.8 1459.1,65.2 1460.4,63.3 1461.7,63.7 1463.0,64.3 1464.3,64.0 1465.6,64.7 1466.9,61.9 1468.2,61.9 1469.5,62.2 1470.8,63.0 1472.1,62.4 1473.4,63.1 1474.7,62.4 1476.0,64.0 1477.3,62.2 1478.6,64.7 1479.9,63.7 1481.2,63.5 1482.5,63.8 1483.8,62.8 1485.1,61.4 1486.4,63.7 1487.7,63.7 1489.0,63.5 1490.3,63.7 1491.6,62.8 1492.9,64.8 1494.2,62.6 1495.5,62.4 1496.8,62.3 1498.1,62.0 1499.4,62.4 1500.7,62.7 1502.0,62.8 1503.3,64.5 1504.6,64.1 1505.9,63.8 1507.2,62.6 1508.5,63.7 1509.8,62.6 1511.1,63.8 1512.4,62.5 1513.7,61.8 1515.0,64.0 1516.3,62.9 1517.6,61.9 1518.9,62.4 1520.2,62.1 1521.5,62.7 1522.8,62.9 1524.1,62.4 1525.4,62.4 1526.7,63.8 1528.0,63.5 1529.3,62.5 1530.6,62.9 1531.9,62.9 1533.2,61.5 1534.5,61.5 1535.8,63.4 1537.2,63.2 1538.5,63.2 1539.8,62.8 1541.1,61.3 1542.4,62.3 1543.7,61.9 1545.0,62.3 1546.3,61.5 1547.6,62.1 1548.9,62.8 1550.2,61.9 1551.5,64.0 1552.8,62.1 1554.2,63.9 1555.5,64.4 1556.8,62.6 1558.1,62.2 1559.4,61.6 1560.7,62.7 1562.0,61.7 1563.3,61.8 1564.6,61.1 1565.9,61.1 1567.2,62.3 1568.5,61.0 1569.8,62.2 1571.2,62.4 1572.5,62.0 1573.8,60.6 1575.1,61.4 1576.4,60.2 1577.7,60.0 1579.0,61.2 1580.3,60.1 1581.6,60.3 1582.9,62.7 1584.2,60.8 1585.5,61.3 1586.8,61.4 1588.2,61.8 1589.5,62.0 1590.8,62.7 1592.1,61.1 1593.4,62.5 1594.7,62.8 1596.0,61.7 1597.5,62.0 1599.0,61.2 1600.5,59.2 1602.0,60.1 1607.7,59.4 1613.6,61.8 1618.3,73.6 1620.7,85.4 1622.5,114.9 1623.6,144.4 1625.4,168.0 1626.6,191.6 1628.9,227.0 1631.3,256.0 1635.4,227.0 1636.6,203.4 1638.4,168.0 1640.7,144.4 1644.3,130.3 1651.4,117.3 1659.6,108.4 1666.7,109.6 1678.5,113.7 1690.3,114.3 1698.6,118.5 1705.7,132.6 1712.7,150.3 1719.8,159.8 1729.3,169.2 1737.5,178.6 1743.4,181.0 1749.3,176.9 1761.1,175.7 1769.4,179.8 1776.5,191.6 1784.7,203.4 1793.0,217.6 1798.9,224.1 1806.0,220.0 1810.7,209.3 1814.2,191.6 1819.0,179.8 1826.0,172.7 1830.0,171.6 1841.8,181.0 1853.6,178.6 1864.2,173.9 1871.3,162.1 1879.6,149.1 1889.0,143.2 1896.1,150.3 1903.2,159.8 1911.4,165.7 1916.2,179.8 1920.9,197.5 1925.6,201.1 1930.3,185.7 1935.0,165.7 1942.1,152.7 1948.0,168.0 1951.6,191.6 1957.5,195.2 1962.2,209.3 1965.7,224.7 1971.6,235.3 1974.0,243.6 1976.3,261.3 1978.7,279.0 1981.1,287.3 1984.6,273.1 1987.0,255.4 1989.3,237.7 1992.9,227.1 1997.6,233.0 2003.5,243.6 2005.9,247.1 2009.4,237.7 2012.9,220.0 2014.1,209.3 2021.2,191.6 2030.6,177.5 2036.5,165.7 2046.0,164.5 2050.7,150.3 2056.6,139.7 2067.2,132.6 2071.9,139.7 2076.1,143.2 2081.8,130.3 2087.7,120.8 2093.6,112.6 2099.5,100.7 2105.4,85.4 2110.1,73.6 2111.9,71.8 2113.7,69.3 2115.0,69.1 2116.4,69.4 2117.8,68.3 2119.2,68.0 2120.6,66.9 2121.9,67.2 2123.3,65.8 2124.8,66.0 2126.2,65.3 2127.6,63.9 2129.0,63.5 2130.6,62.3 2132.2,62.8 2133.7,62.6 2137.3,71.2 2140.8,85.4 2143.2,112.6 2145.5,85.4 2149.1,76.0 2150.5,74.7 2152.0,74.2 2153.5,73.5 2155.0,73.2 2156.5,74.1 2157.9,76.3 2159.4,76.4 2160.9,79.2 2162.6,81.0 2164.4,84.1 2168.0,73.6 2169.7,71.4 2171.5,68.5 2173.1,70.1 2174.6,73.9 2176.2,75.7 2180.9,100.7 2184.5,79.5 2188.0,68.9 2189.4,67.9 2190.9,67.1 2192.3,66.4 2193.7,66.4 2195.1,66.1 2196.6,67.4 2198.1,68.4 2199.5,69.7 2201.0,71.2 2202.6,71.4 2204.2,70.7 2205.7,69.6 2207.2,70.8 2208.7,71.4 2210.2,71.4 2211.6,71.9 2213.2,73.9 2214.8,77.6 2216.3,79.8 2218.1,76.4 2219.9,74.1 2222.2,63.0 2224.0,62.6 2225.8,61.6 2227.6,64.8 2229.3,67.2 2232.9,79.5 2234.4,82.6 2236.0,84.2 2237.6,88.0 2239.1,87.4 2240.5,87.6 2242.0,86.7 2243.5,86.7 2244.9,86.8 2246.3,85.6 2247.7,85.1 2249.2,83.4 2250.6,83.4 2252.1,79.3 2253.7,76.1 2255.3,72.8 2256.7,72.0 2258.1,71.1 2259.5,70.1 2261.0,69.1 2262.4,67.1 2261.8,64.7 2263.2,65.0 2264.7,66.9 2266.1,67.5 2267.6,68.2 2269.0,69.2 2270.5,69.1 2272.0,70.5 2273.4,69.7 2274.9,71.4 2276.3,71.6 2277.6,72.0 2279.0,72.1 2280.3,71.7 2281.6,71.0 2282.9,71.0 2284.2,70.8 2285.6,71.2 2286.9,72.0 2288.2,70.8 2289.5,71.7 2290.8,70.9 2292.2,71.7 2293.5,71.0 2294.8,71.7 2296.1,71.5 2297.4,70.8 2298.8,72.0 2300.1,71.9 2301.4,71.6 2302.7,71.6 2304.0,71.9 2305.4,71.2 2306.8,72.8 2308.3,73.4 2309.7,75.1 2311.2,75.9 2312.6,76.3 2314.1,79.5 2315.5,84.2 2317.7,105.4 2319.2,86.5 2320.6,109.0 2322.8,123.5 2324.2,92.3 2325.7,109.0 2327.9,88.7 2330.1,109.0 2332.2,92.3 2333.7,111.2 2335.1,114.1 2336.6,92.3 2338.0,109.0 2340.2,87.9 2341.7,98.1 2343.1,85.0 2345.3,84.2 2346.8,82.9 2348.2,83.2 2349.7,82.7 2351.1,81.5 2352.6,81.9 2354.0,82.3 2355.5,82.2 2356.9,82.5 2358.4,81.8 2359.8,83.3 2361.5,81.5 2363.2,81.4 2364.9,80.9 2366.4,80.3 2367.8,79.3 2369.3,79.8"/>
<polyline class="cv" stroke="#8000ff" points="270.3,73.5 271.6,73.3 272.9,73.6 274.2,73.2 275.5,73.5 276.8,74.2 278.1,73.9 279.4,74.0 280.7,73.2 282.0,74.2 283.3,73.5 284.6,73.1 285.9,74.2 287.3,72.7 288.6,73.2 289.9,72.7 291.2,73.1 292.5,73.7 293.8,74.3 295.1,74.3 296.4,73.6 297.7,74.6 299.0,73.6 300.3,74.0 301.6,74.1 302.9,73.9 304.2,74.4 305.5,73.1 306.8,73.8 308.1,73.1 309.4,73.0 310.7,73.6 312.0,73.4 313.3,73.6 314.6,73.3 315.9,73.7 317.2,74.0 318.6,74.2 319.9,74.3 321.2,72.8 322.5,73.1 323.8,73.5 325.1,73.7 326.4,73.6 327.7,73.6 329.0,72.8 330.3,74.0 331.6,74.0 332.9,73.8 334.2,73.5 335.5,73.1 336.8,73.8 338.1,73.8 339.4,73.6 340.7,73.8 342.0,73.4 343.3,73.0 344.6,72.7 345.9,73.2 347.2,72.9 348.5,73.4 349.8,73.7 351.2,73.1 352.5,73.9 353.8,72.6 355.1,73.6 356.4,73.7 357.7,73.1 359.0,73.8 360.3,74.0 361.6,72.7 362.9,72.9 364.2,74.2 365.5,72.9 366.8,73.9 368.1,72.9 369.4,73.0 370.7,73.6 372.0,73.8 373.3,73.2 374.6,73.9 375.9,73.6 377.2,72.6 378.5,73.4 379.8,72.6 381.1,73.5 382.5,74.1 383.8,73.7 385.1,73.7 386.4,73.6 387.7,73.1 389.0,73.8 390.3,73.1 391.6,73.1 392.9,73.8 394.2,72.7 395.5,73.2 396.8,73.5 398.1,74.1 399.4,74.3 400.7,73.6 402.0,73.4 403.3,73.5 404.6,73.9 405.9,72.8 407.2,72.3 408.5,72.4 409.8,73.4 411.1,73.3 412.4,73.0 413.7,72.5 415.1,73.3 416.4,73.0 417.7,72.7 419.0,73.5 420.3,72.5 421.6,73.7 422.9,73.0 424.2,72.8 425.5,73.5 426.8,73.1 428.1,73.6 429.4,72.3 430.7,72.5 432.0,72.9 433.3,73.4 434.6,72.4 435.9,72.3 437.2,73.7 438.5,72.7 439.8,72.8 441.1,72.7 442.4,73.8 443.7,73.9 445.0,73.5 446.4,73.8 447.7,73.9 449.0,74.2 450.3,74.5 451.6,74.0 452.9,74.3 454.2,73.2 455.5,72.9 456.8,73.4 458.1,74.4 459.4,73.4 460.7,73.7 462.0,73.8 463.3,73.2 464.6,73.8 466.0,74.8 467.3,75.0 468.6,74.8 469.9,74.5 471.3,74.5 472.6,74.7 473.9,74.9 475.2,74.9 476.5,74.5 477.9,75.7 479.2,75.1 480.5,76.0 481.8,75.3 483.2,76.0 484.5,76.4 485.8,76.5 487.1,76.6 488.5,76.0 489.8,76.4 491.1,76.2 492.4,76.9 493.7,76.3 495.1,76.7 496.4,76.9 497.7,76.7 499.0,76.3 500.4,77.5 501.7,77.1 503.0,76.8 504.3,78.3 505.6,78.4 507.0,79.0 508.3,79.2 509.6,80.4 510.9,80.7 512.2,81.1 513.6,80.2 514.9,81.7 516.2,81.5 517.5,81.9 518.9,82.9 520.2,83.3 521.5,83.0 522.8,83.5 524.1,84.8 525.5,84.8 526.8,84.6 528.1,85.3 529.4,85.8 530.8,85.3 532.1,87.0 533.4,87.5 534.7,87.7 536.0,86.9 537.4,87.6 538.7,87.8 540.0,88.3 541.3,89.0 542.6,89.7 544.0,89.3 545.3,90.3 546.6,91.0 547.9,90.4 549.3,91.0 550.6,90.8 551.9,92.0 553.2,92.5 554.6,92.3 555.9,92.5 557.2,92.9 558.5,93.1 559.9,93.8 561.2,93.8 562.5,95.2 563.8,95.8 565.1,95.2 566.5,96.5 567.8,96.0 569.1,97.3 570.4,97.7 571.8,98.7 573.1,98.6 574.4,98.9 575.7,98.5 577.1,99.9 578.4,100.2 579.7,100.7 581.0,100.3 582.4,101.1 583.7,101.7 585.0,101.5 586.3,102.3 587.6,103.0 589.0,103.5 590.3,103.1 591.6,103.9 592.9,104.3 594.3,104.5 595.6,104.4 596.9,105.7 598.2,105.0 599.6,106.4 600.9,107.0 602.2,107.2 603.5,106.7 604.9,107.7 606.2,107.8 607.5,108.0 608.8,108.9 610.1,108.1 611.4,109.6 612.7,110.0 614.0,110.0 615.3,110.0 616.6,110.4 617.9,110.3 619.2,109.9 620.5,111.0 621.8,111.6 623.1,111.7 624.4,112.0 625.7,112.7 627.0,112.2 628.3,112.3 629.6,112.8 630.9,113.2 632.2,114.3 633.5,113.9 634.8,114.9 636.1,114.6 637.4,114.2 638.7,115.2 640.0,116.1 641.3,115.1 642.7,115.9 644.0,115.9 645.4,116.1 646.7,116.6 648.1,117.1 649.4,117.0 650.8,117.2 652.1,118.0 653.5,117.7 654.8,118.7 656.2,119.2 657.5,118.3 658.8,118.9 660.2,119.8 661.5,119.3 662.9,119.4 664.2,119.5 665.6,120.6 666.9,120.6 668.3,120.8 669.6,121.2 671.0,120.5 672.3,122.1 673.7,121.1 675.0,122.4 676.3,121.4 677.7,122.1 679.0,120.8 680.4,120.7 681.7,120.6 683.1,120.1 684.4,120.2 685.8,120.5 687.1,120.6 688.5,119.8 689.8,121.0 691.2,120.9 692.5,120.3 693.9,120.3 695.2,119.5 696.6,120.0 697.9,119.5 699.3,119.8 700.6,119.2 702.0,118.4 703.3,118.9 704.7,119.3 706.0,118.3 707.4,118.5 708.7,118.4 710.0,118.0 711.4,117.7 712.7,116.0 714.0,115.6 715.4,115.3 716.7,115.3 718.0,115.9 719.4,115.0 720.7,113.3 722.0,114.0 723.4,113.4 724.7,113.6 726.0,112.3 727.3,112.6 728.7,111.2 730.0,110.6 731.3,111.5 732.7,109.5 734.0,110.3 735.3,109.9 736.7,108.3 738.0,107.9 739.3,108.6 740.7,108.3 742.0,106.9 743.3,108.0 744.6,108.1 746.0,107.0 747.3,106.6 748.6,107.7 749.9,106.8 751.2,106.3 752.6,106.2 753.9,106.6 755.2,106.7 756.5,106.0 757.8,105.9 759.2,104.5 760.5,105.2 761.8,105.3 763.1,103.8 764.4,104.0 765.8,103.8 767.1,103.8 768.4,103.8 769.7,104.2 771.0,103.3 772.4,103.8 773.7,103.1 775.0,103.4 776.3,102.3 777.7,102.9 779.0,103.3 780.4,102.0 781.7,102.2 783.1,101.9 784.4,102.8 785.8,101.4 787.1,101.1 788.5,102.2 789.8,100.7 791.2,101.4 792.5,101.7 793.8,101.5 795.2,101.1 796.5,100.5 797.9,101.3 799.2,100.4 800.6,100.7 801.9,100.5 803.3,100.9 804.6,100.1 806.0,100.5 807.3,100.3 808.7,99.0 810.0,100.0 811.3,99.0 812.7,98.9 814.0,98.7 815.3,98.4 816.7,98.9 818.0,98.4 819.3,98.1 820.7,98.6 822.0,97.8 823.3,97.5 824.7,98.3 826.0,97.7 827.3,97.4 828.7,97.7 830.0,97.1 831.4,97.6 832.7,97.7 834.1,97.7 835.4,97.8 836.8,97.8 838.2,97.9 839.5,98.0 840.9,98.0 842.3,98.2 843.6,98.2 845.0,98.3 846.3,98.4 847.7,98.5 865.4,106.7 883.1,116.1 889.0,131.4 896.1,153.9 900.8,162.1 906.7,166.8 912.6,185.7 917.3,209.3 920.3,220.5 924.4,191.6 930.3,168.0 936.2,153.9 940.9,150.6 948.0,152.7 955.1,163.3 958.6,179.8 960.4,199.9 964.5,173.9 967.5,144.4 971.6,125.5 978.7,116.1 995.2,111.4 1007.0,106.7 1018.8,103.1 1042.4,100.7 1066.0,98.4 1090.0,96.6 1091.3,96.2 1092.6,96.8 1093.9,96.2 1095.2,96.4 1096.5,96.1 1097.8,96.3 1099.1,96.6 1100.4,96.6 1101.7,96.4 1103.0,95.8 1104.3,95.6 1105.6,95.9 1106.9,95.1 1108.2,95.5 1109.5,94.9 1110.8,95.1 1112.1,94.7 1113.4,94.7 1114.7,94.9 1116.0,94.7 1117.3,94.3 1118.6,94.6 1119.9,94.0 1121.2,94.3 1122.5,94.1 1123.9,93.8 1125.2,93.7 1126.5,93.5 1127.8,93.8 1129.1,93.4 1130.4,93.4 1131.7,93.2 1133.0,93.5 1134.3,93.2 1135.6,93.3 1136.9,93.3 1138.2,93.2 1139.5,93.0 1140.8,93.0 1142.1,92.7 1143.4,92.7 1144.7,92.6 1146.0,92.4 1147.3,92.4 1148.6,92.2 1149.9,92.1 1151.2,92.3 1152.5,92.3 1153.8,91.6 1155.1,92.2 1156.4,91.8 1157.7,92.1 1159.0,91.9 1160.3,91.9 1161.6,92.0 1162.9,91.3 1164.2,91.6 1165.5,91.4 1166.8,91.2 1168.1,91.5 1169.4,91.5 1170.7,91.2 1172.0,90.9 1173.3,90.7 1174.6,90.5 1175.9,90.5 1177.2,90.8 1178.5,90.5 1179.8,90.7 1181.1,90.5 1182.4,89.8 1183.7,90.0 1185.0,89.9 1186.3,89.5 1187.6,89.6 1188.9,90.0 1190.2,90.0 1191.5,90.0 1192.8,89.7 1194.2,89.4 1195.5,89.4 1196.8,89.0 1198.1,89.2 1199.4,88.8 1200.7,88.7 1202.0,89.0 1203.3,88.6 1204.6,89.0 1205.9,88.4 1207.2,88.2 1208.5,88.8 1209.8,88.8 1211.1,88.1 1212.4,88.2 1213.7,87.9 1215.0,87.9 1216.3,87.8 1217.6,87.5 1218.9,87.6 1220.2,88.0 1221.5,87.1 1222.8,87.4 1224.1,87.3 1225.4,87.1 1226.7,86.8 1228.0,87.2 1229.3,86.0 1230.6,85.9 1231.9,86.1 1233.2,87.3 1234.6,85.3 1235.9,87.4 1237.2,85.8 1238.5,85.8 1239.8,86.8 1241.1,85.6 1242.4,85.0 1243.7,84.6 1245.0,86.8 1246.3,85.5 1247.7,85.9 1249.0,85.4 1250.3,86.9 1251.6,85.0 1252.9,86.2 1254.2,85.8 1255.5,85.1 1256.8,85.6 1258.1,86.6 1259.4,84.5 1260.8,85.4 1262.1,84.1 1263.4,84.5 1264.7,83.4 1266.0,84.4 1267.3,84.3 1268.6,84.5 1269.9,84.7 1271.2,84.1 1272.6,85.1 1273.9,85.0 1275.2,85.6 1276.5,84.2 1277.8,85.1 1279.1,83.8 1280.4,84.7 1281.7,83.6 1283.0,83.7 1284.3,83.7 1285.7,84.2 1287.0,84.5 1288.3,85.5 1289.6,84.8 1290.9,84.2 1292.2,84.7 1293.5,83.2 1294.8,84.0 1296.1,84.2 1297.4,84.3 1298.8,84.5 1300.1,83.5 1301.4,83.1 1302.7,83.3 1304.0,84.7 1305.3,84.6 1306.6,84.2 1307.9,82.4 1309.2,84.4 1310.6,84.4 1311.9,84.7 1313.2,84.4 1314.5,83.9 1315.8,83.9 1317.1,82.8 1318.4,83.5 1319.7,84.4 1321.0,84.7 1322.3,84.6 1323.7,82.8 1325.0,83.4 1326.3,82.6 1327.6,83.5 1328.9,83.8 1330.2,82.8 1331.5,84.1 1332.8,82.3 1334.1,82.3 1335.4,84.1 1336.8,82.7 1338.1,84.4 1339.4,82.5 1340.7,82.5 1342.0,83.7 1343.3,82.9 1344.6,84.1 1345.9,81.7 1347.2,82.9 1348.6,81.5 1349.9,83.1 1351.2,82.9 1352.5,83.9 1353.8,81.5 1355.1,83.1 1356.4,81.3 1357.7,81.8 1359.0,81.1 1360.3,81.2 1361.7,82.2 1363.0,81.0 1364.3,81.0 1365.6,82.1 1366.9,80.9 1368.2,81.8 1369.5,81.7 1370.8,81.4 1372.1,82.2 1373.4,82.7 1374.8,81.0 1376.1,82.3 1377.4,81.9 1378.7,81.6 1380.0,80.7 1381.3,79.8 1382.6,80.5 1384.0,81.0 1385.3,81.7 1386.6,81.1 1387.9,79.6 1389.2,79.6 1390.6,80.5 1391.9,81.7 1393.2,81.2 1394.5,80.7 1395.8,81.6 1397.2,81.9 1398.5,81.9 1399.8,81.3 1401.1,80.9 1402.5,81.4 1403.8,80.6 1405.1,80.3 1406.4,80.4 1407.7,79.7 1409.1,81.1 1410.4,79.9 1411.7,81.3 1413.0,81.2 1414.3,80.9 1415.7,80.2 1417.0,79.7 1418.3,79.7 1419.6,79.2 1420.9,81.0 1422.3,80.0 1423.6,78.9 1424.9,81.5 1426.2,80.1 1427.5,79.8 1428.9,80.8 1430.2,79.9 1431.5,79.6 1432.8,79.0 1434.2,80.4 1435.5,77.8 1436.8,79.7 1438.1,77.7 1439.4,78.5 1440.8,79.7 1442.1,77.4 1443.4,78.8 1444.7,79.4 1446.0,78.7 1447.4,77.9 1448.7,77.0 1450.0,76.7 1451.3,76.7 1452.6,78.5 1453.9,78.7 1455.2,79.6 1456.5,77.3 1457.8,77.9 1459.1,77.5 1460.4,77.2 1461.7,78.5 1463.0,76.9 1464.3,76.5 1465.6,76.8 1466.9,79.1 1468.2,77.2 1469.5,77.3 1470.8,78.3 1472.1,78.0 1473.4,76.1 1474.7,77.3 1476.0,76.6 1477.3,78.0 1478.6,77.3 1479.9,77.0 1481.2,78.8 1482.5,77.2 1483.8,76.5 1485.1,77.4 1486.4,78.5 1487.7,76.9 1489.0,76.3 1490.3,78.1 1491.6,76.3 1492.9,77.8 1494.2,78.1 1495.5,76.4 1496.8,75.1 1498.1,76.6 1499.4,75.0 1500.7,74.5 1502.0,77.1 1503.3,75.4 1504.6,76.5 1505.9,75.4 1507.2,76.3 1508.5,76.8 1509.8,77.5 1511.1,76.3 1512.4,77.1 1513.7,75.5 1515.0,75.5 1516.3,76.0 1517.6,74.6 1518.9,75.0 1520.2,75.6 1521.5,75.7 1522.8,74.5 1524.1,76.1 1525.4,75.5 1526.7,74.9 1528.0,74.7 1529.3,76.2 1530.6,75.3 1531.9,76.3 1533.2,73.9 1534.5,74.5 1535.8,75.1 1537.2,74.6 1538.5,74.0 1539.8,75.5 1541.1,74.4 1542.4,73.0 1543.7,73.2 1545.0,74.4 1546.3,73.1 1547.6,74.6 1548.9,73.2 1550.2,73.2 1551.5,72.6 1552.8,73.4 1554.2,73.5 1555.5,74.8 1556.8,74.9 1558.1,74.4 1559.4,71.9 1560.7,74.9 1562.0,73.3 1563.3,74.8 1564.6,72.4 1565.9,72.1 1567.2,73.1 1568.5,74.0 1569.8,74.1 1571.2,72.1 1572.5,74.5 1573.8,71.8 1575.1,74.2 1576.4,72.5 1577.7,73.4 1579.0,73.2 1580.3,71.6 1581.6,72.6 1582.9,71.7 1584.2,73.3 1585.5,72.9 1586.8,72.9 1588.2,72.7 1589.5,71.2 1590.8,72.9 1592.1,70.9 1593.4,72.1 1594.7,73.1 1596.0,71.6 1597.3,71.4 1598.7,70.7 1600.0,72.2 1601.4,71.5 1602.7,71.4 1608.9,74.8 1613.6,85.4 1617.1,109.0 1619.5,144.4 1621.3,179.8 1623.0,215.2 1623.4,230.0 1630.7,331.5 1639.2,230.0 1639.6,203.4 1643.1,173.9 1649.0,156.2 1656.1,142.1 1663.2,135.6 1672.6,140.9 1684.4,143.2 1693.9,144.4 1698.6,150.3 1703.3,165.7 1708.0,183.4 1712.7,203.4 1717.5,209.3 1725.7,217.6 1734.0,227.0 1740.5,231.8 1748.1,224.7 1758.8,218.8 1767.0,224.7 1774.1,241.8 1781.2,253.6 1788.3,267.8 1795.4,274.8 1799.5,275.4 1803.6,271.3 1808.3,259.5 1811.9,241.8 1814.2,224.7 1820.1,209.3 1827.2,202.2 1835.9,215.2 1841.2,223.5 1851.2,218.8 1863.0,212.9 1870.1,201.1 1877.2,189.3 1886.7,178.6 1893.7,184.5 1900.8,194.0 1905.5,203.4 1911.4,208.1 1913.2,220.0 1916.2,237.7 1922.1,244.8 1926.8,249.5 1930.3,237.7 1933.9,220.0 1937.4,202.2 1944.5,189.3 1949.2,220.0 1949.8,243.6 1952.7,262.5 1956.3,247.1 1959.8,261.3 1962.2,290.8 1964.5,308.5 1969.3,312.1 1974.0,320.3 1976.3,343.9 1981.1,367.5 1985.8,343.9 1988.1,314.4 1990.5,290.8 1993.5,282.6 1998.8,293.2 2003.5,308.5 2006.4,318.0 2010.6,302.6 2014.1,279.0 2017.7,255.4 2022.4,237.7 2028.3,220.0 2035.4,211.7 2040.1,198.7 2047.2,195.2 2051.9,179.8 2056.6,163.3 2064.9,157.4 2070.8,165.7 2076.1,173.9 2081.8,162.1 2087.7,148.0 2093.6,132.6 2100.7,120.8 2106.6,101.9 2113.7,83.0 2115.1,82.4 2116.5,81.2 2117.9,81.0 2119.3,79.8 2120.7,78.7 2122.1,78.8 2123.5,78.5 2124.9,77.2 2126.3,77.5 2127.6,76.6 2129.0,76.9 2130.8,75.7 2132.6,73.6 2134.9,91.3 2138.5,120.8 2143.2,139.7 2147.9,120.8 2151.4,97.2 2155.0,84.2 2159.7,97.2 2161.3,100.0 2162.8,103.2 2164.4,105.8 2168.0,94.8 2169.7,91.8 2171.5,88.8 2175.0,103.1 2178.6,126.7 2180.9,137.3 2184.5,114.9 2188.0,93.7 2189.8,90.3 2191.6,85.3 2193.3,84.2 2195.1,81.8 2196.7,84.3 2198.3,86.6 2199.8,88.4 2201.3,86.9 2202.8,86.1 2204.2,84.9 2205.7,84.8 2207.3,87.8 2208.9,91.9 2210.4,94.8 2214.0,105.5 2215.8,107.0 2217.5,108.5 2221.1,94.8 2224.6,81.9 2228.1,97.2 2232.9,114.9 2237.0,127.9 2240.0,111.4 2241.3,109.9 2242.7,108.2 2244.1,105.8 2245.6,108.9 2247.0,111.0 2248.5,114.0 2250.0,116.0 2254.1,103.1 2257.7,88.9 2259.2,87.0 2260.8,84.9 2262.4,83.4 2263.9,83.9 2265.4,84.8 2266.9,85.4 2268.3,86.9 2269.8,88.2 2271.2,90.6 2272.9,91.6 2274.6,92.9 2276.3,94.5 2277.8,94.0 2279.2,91.5 2280.7,90.9 2282.1,89.9 2283.6,89.1 2285.0,87.9 2286.5,89.2 2287.9,89.2 2289.4,89.9 2290.8,90.3 2292.3,90.7 2293.7,90.3 2295.2,89.9 2296.6,90.4 2298.1,90.1 2299.5,90.5 2301.0,91.4 2302.5,91.8 2303.9,91.7 2305.4,92.8 2307.1,93.0 2308.7,95.3 2310.4,96.5 2312.3,101.3 2314.1,106.1 2316.3,127.1 2317.7,112.6 2319.2,148.9 2320.6,119.9 2322.0,167.1 2323.5,123.5 2325.0,156.2 2327.1,119.9 2329.3,148.9 2330.8,119.9 2332.2,152.6 2333.7,119.9 2334.7,154.7 2336.6,119.9 2338.0,145.3 2340.2,116.3 2341.7,130.8 2343.1,109.0 2343.8,103.9 2345.5,103.7 2347.2,102.9 2348.9,103.0 2350.7,102.2 2352.6,102.1 2354.4,104.6 2356.2,107.2 2357.6,107.2 2359.1,109.3 2360.6,108.3 2362.0,106.4 2363.5,104.5 2364.9,104.4 2366.4,102.9 2367.8,101.2 2369.3,100.3"/>
</g>
<g class="tk" text-anchor="middle">
<text x="269.9" y="1661.7">4000</text>
<text x="569.7" y="1661.7">3500</text>
<text x="869.5" y="1661.7">3000</text>
<text x="1169.3" y="1661.7">2500</text>
<text x="1469.1" y="1661.7">2000</text>
<text x="1768.8" y="1661.7">1500</text>
<text x="2068.6" y="1661.7">1000</text>
<text x="2368.4" y="1661.7">500</text>
</g>
<g class="tk" text-anchor="end">
<text x="224.5" y="75.6">100</text>
<text x="224.5" y="264.6">90</text>
<text x="224.5" y="453.6">80</text>
<text x="224.5" y="642.6">70</text>
<text x="224.5" y="831.7">60</text>
<text x="224.5" y="1020.7">50</text>
<text x="224.5" y="1209.7">40</text>
<text x="224.5" y="1398.7">30</text>
<text x="224.5" y="1587.7">20</text>
</g>
<text class="ti" text-anchor="middle" x="1280.5" y="1780.3">Wave number (cm<tspan font-size="55" dy="-38">−1</tspan><tspan dy="38">)</tspan></text>
<text class="ti" text-anchor="middle" transform="translate(95.3,779.5) rotate(-90)">Transmittance (%)</text>
<line x1="366.3" y1="940.2" x2="527.6" y2="940.2" stroke="#000000" stroke-width="7"/>
<text class="lg" x="541.5" y="963.8">0%</text>
<line x1="366.3" y1="1026.9" x2="527.6" y2="1026.9" stroke="#ff0000" stroke-width="7"/>
<text class="lg" x="541.5" y="1050.5">5%</text>
<line x1="366.3" y1="1113.6" x2="527.6" y2="1113.6" stroke="#0000ff" stroke-width="7"/>
<text class="lg" x="541.5" y="1137.2">10%</text>
<line x1="366.3" y1="1200.3" x2="527.6" y2="1200.3" stroke="#ff00ff" stroke-width="7"/>
<text class="lg" x="541.5" y="1223.9">15%</text>
<line x1="366.3" y1="1287.0" x2="527.6" y2="1287.0" stroke="#008000" stroke-width="7"/>
<text class="lg" x="541.5" y="1310.6">20%</text>
<line x1="366.3" y1="1373.7" x2="527.6" y2="1373.7" stroke="#000080" stroke-width="7"/>
<text class="lg" x="541.5" y="1397.3">25%</text>
<line x1="366.3" y1="1460.4" x2="527.6" y2="1460.4" stroke="#8000ff" stroke-width="7"/>
<text class="lg" x="541.5" y="1484.0">30%</text>
<line class="ar" x1="667.0" y1="244.2" x2="667.0" y2="180.6"/>
<polygon fill="#000" points="667.0,142.1 676.6,180.6 657.4,180.6"/>
<text class="an" text-anchor="middle" x="662.5" y="333.2">3340</text>
<line class="ar" x1="937.6" y1="347.7" x2="925.2" y2="305.5"/>
<polygon fill="#000" points="914.4,268.6 934.4,302.8 916.0,308.2"/>
<text class="an" text-anchor="middle" x="957.5" y="429.2">2910</text>
<line class="ar" x1="1047.8" y1="241.5" x2="1010.0" y2="229.0"/>
<polygon fill="#000" points="973.4,217.0 1013.0,219.9 1007.0,238.2"/>
<text class="an" text-anchor="middle" x="1146.5" y="300.5">2850</text>
<line class="ar" x1="1710.4" y1="304.4" x2="1710.4" y2="266.7"/>
<polygon fill="#000" points="1710.4,228.2 1720.0,266.7 1700.8,266.7"/>
<text class="an" text-anchor="middle" x="1719.5" y="375.7">1584</text>
<line class="ar" x1="1632.0" y1="694.1" x2="1632.0" y2="661.9"/>
<polygon fill="#000" points="1632.0,623.4 1641.6,661.9 1622.4,661.9"/>
<text class="an" text-anchor="middle" x="1641.0" y="781.0">1730</text>
<line class="ar" x1="1800.5" y1="418.5" x2="1800.5" y2="345.8"/>
<polygon fill="#000" points="1800.5,307.3 1810.1,345.8 1790.9,345.8"/>
<text class="an" text-anchor="middle" x="1807.5" y="491.2">1440</text>
<line class="ar" x1="1980.7" y1="658.7" x2="1980.7" y2="621.0"/>
<polygon fill="#000" points="1980.7,582.5 1990.3,621.0 1971.1,621.0"/>
<text class="an" text-anchor="middle" x="1984.5" y="745.2">1153</text>
<line class="ar" x1="2183.9" y1="232.3" x2="2183.9" y2="187.6"/>
<polygon fill="#000" points="2183.9,149.1 2193.5,187.6 2174.3,187.6"/>
<text class="an" text-anchor="middle" x="2192.5" y="317.2">816</text>
</svg>
</body></html>
